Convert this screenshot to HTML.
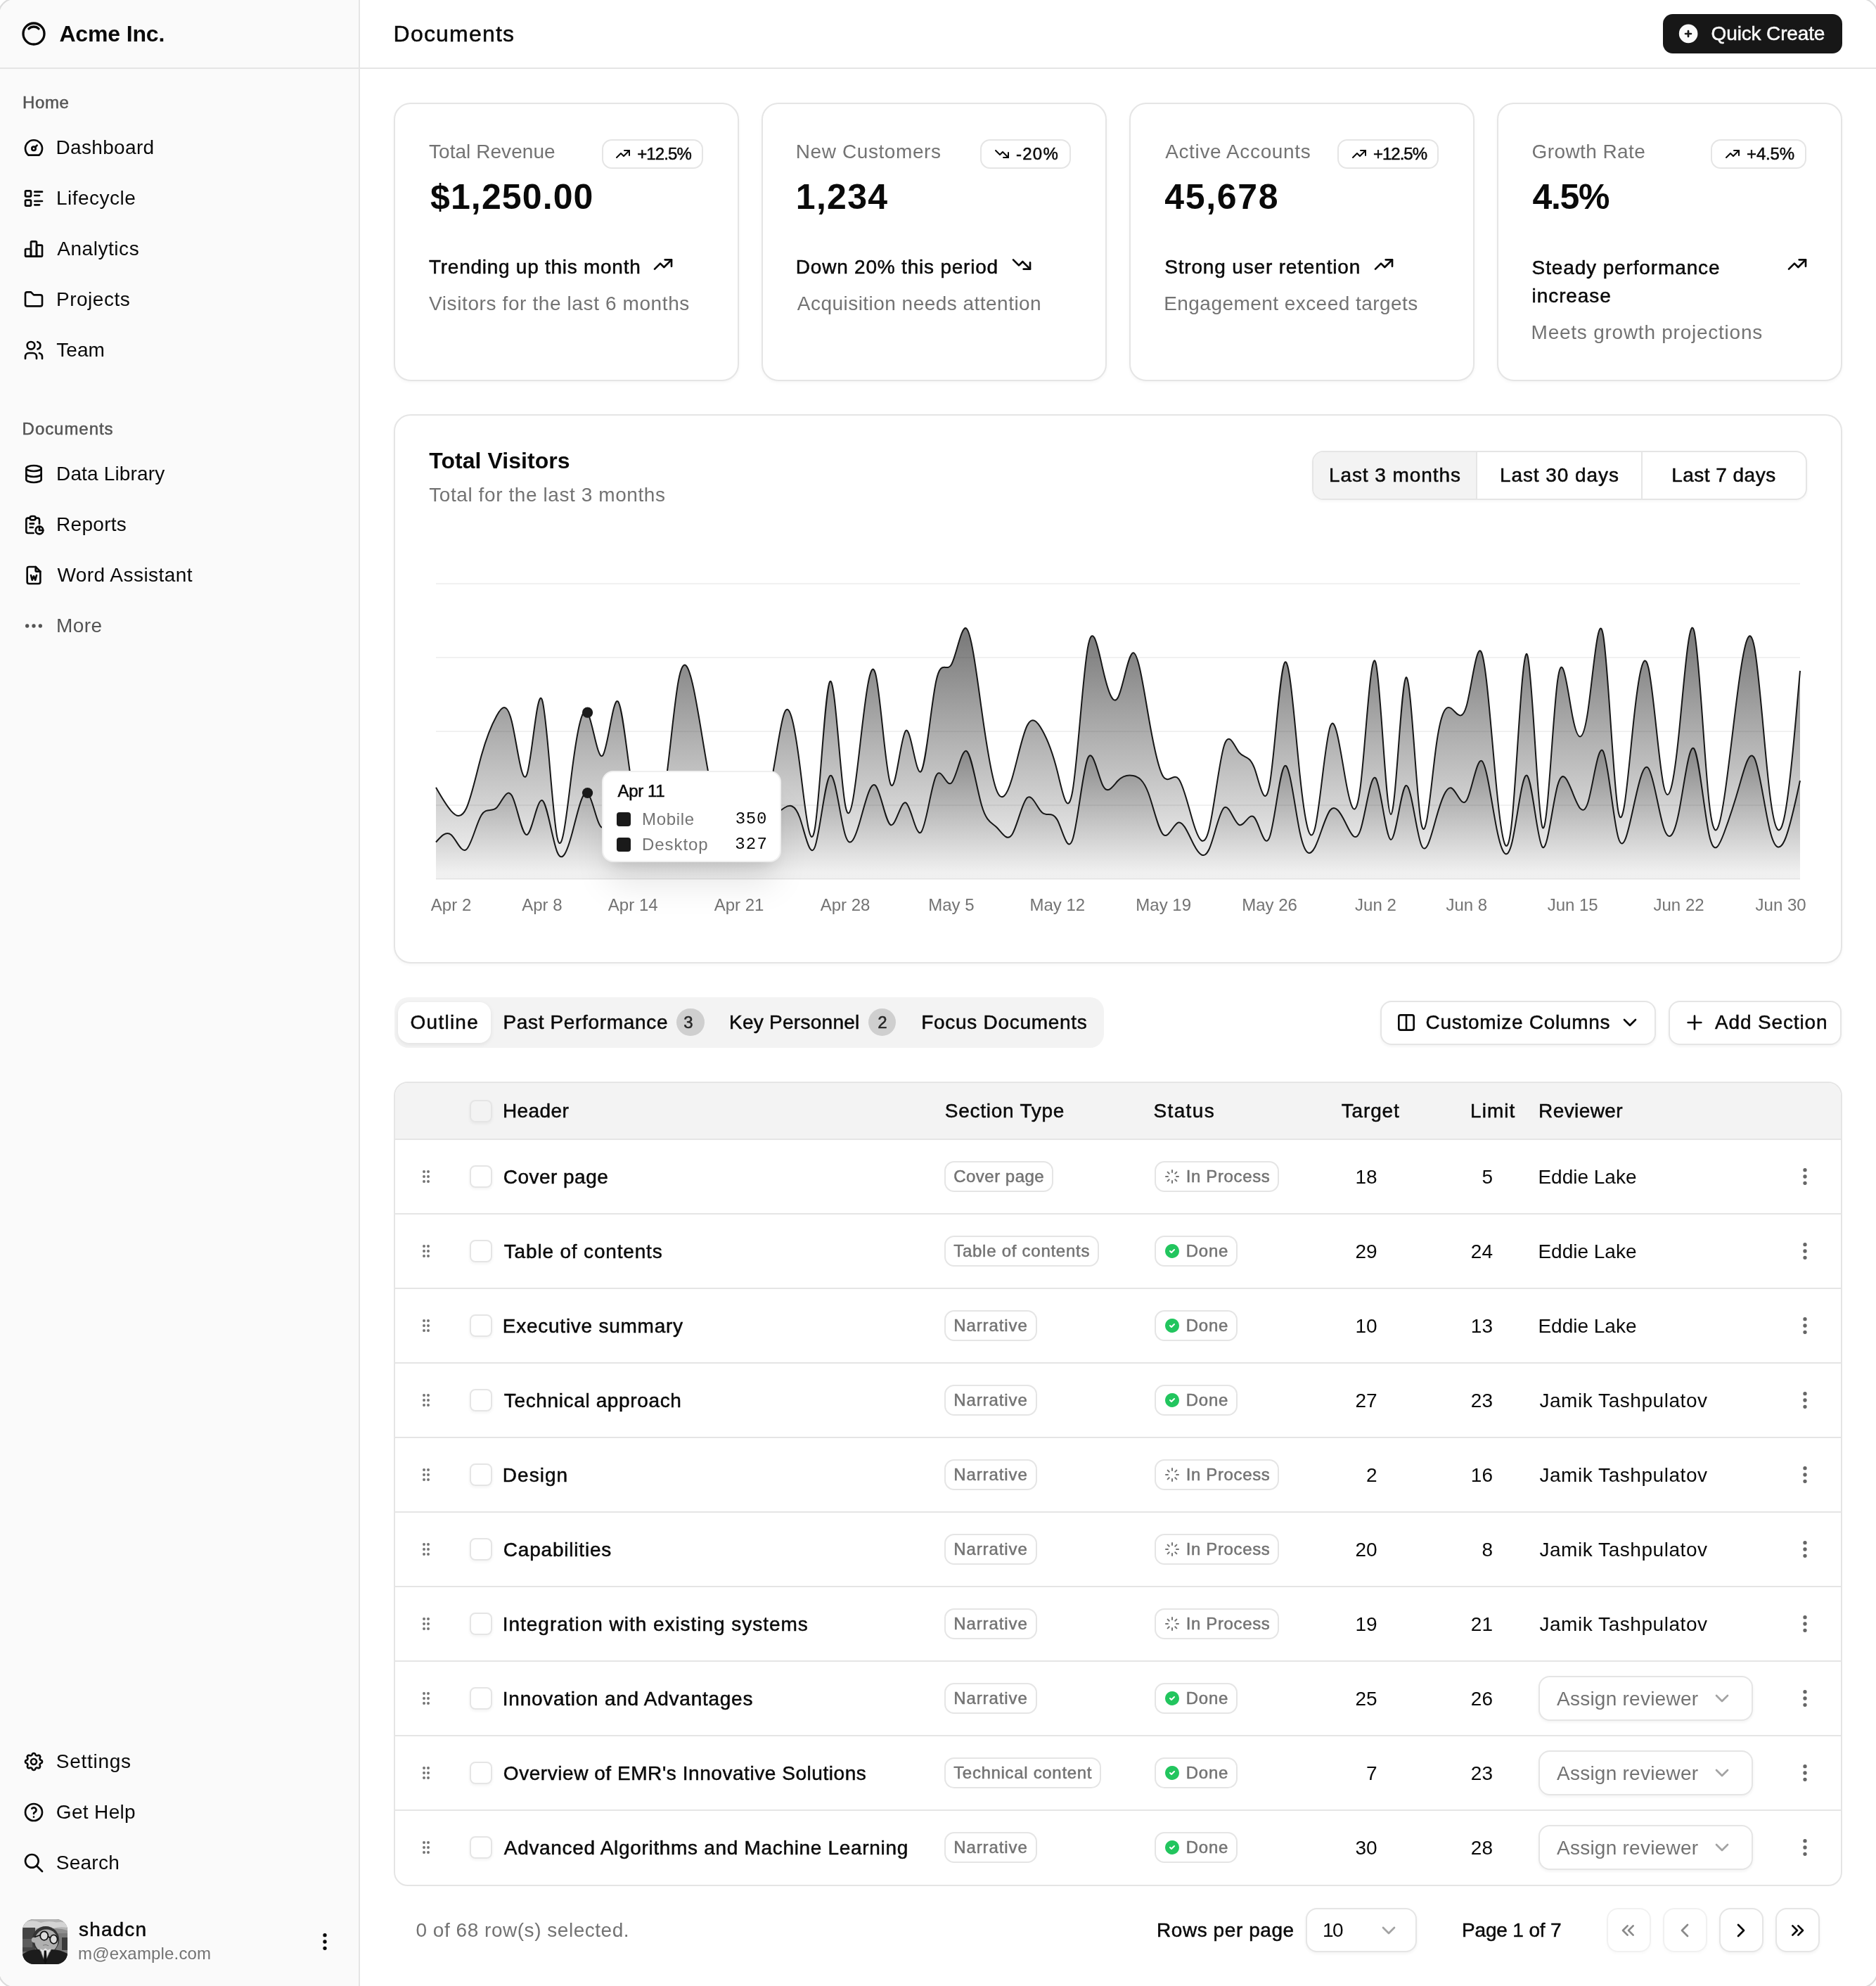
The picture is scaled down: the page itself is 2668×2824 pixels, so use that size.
<!DOCTYPE html><html><head><meta charset="utf-8"><title>Documents</title><style>
*{margin:0;padding:0;box-sizing:border-box}
html,body{width:1334px;height:1412px;overflow:hidden;background:#fff}
@media (min-width:2000px){html{zoom:2}}
body{will-change:transform;position:relative;font-family:"Liberation Sans",Arial,sans-serif;color:#0a0a0a;-webkit-font-smoothing:antialiased}
.t{position:absolute;white-space:nowrap}
.med{-webkit-text-stroke:0.25px currentColor}
.b{position:absolute}
.ic{position:absolute;overflow:visible}
.badge{position:absolute;height:21px;border:1px solid #e5e5e5;border-radius:7px;display:flex;align-items:center;gap:4px;padding:0 7.5px 0 8.3px;font-size:12px;line-height:16px;white-space:nowrap;background:#fff}
.bi{display:block;width:12px;height:12px;flex:none}
.tg{position:absolute;display:flex;border:1px solid #e5e5e5;border-radius:8px;overflow:hidden;box-shadow:0 1px 2px rgba(0,0,0,0.04)}
.ti{height:100%;display:flex;align-items:center;justify-content:center;font-size:14px;border-right:1px solid #e5e5e5;white-space:nowrap}
.ti.on{background:#f3f3f3}
.ax{font-size:12px;fill:#737373;font-family:"Liberation Sans",Arial,sans-serif}
.tip{position:absolute;background:#fff;border:1px solid rgba(229,229,229,0.6);border-radius:8px;box-shadow:0 20px 25px -5px rgba(0,0,0,0.1),0 8px 10px -6px rgba(0,0,0,0.1)}
.btn{position:absolute;border:1px solid #e5e5e5;border-radius:8px;background:#fff;box-shadow:0 1px 2px rgba(0,0,0,0.05)}
.cb{position:absolute;width:16px;height:16px;border:1px solid #e5e5e5;border-radius:4px;box-shadow:0 1px 2px rgba(0,0,0,0.05)}
.bdg{position:absolute;height:21.6px;border:1px solid #e5e5e5;border-radius:7px;display:flex;align-items:center;gap:4px;padding:0 5.5px;font-size:12px;color:#737373;white-space:nowrap;background:#fff}
.frame{position:absolute;left:-1.5px;top:-1.5px;width:1337px;height:1415px;border:1px solid #dcdcdc;border-radius:12px;box-shadow:0 0 0 20px #fff;pointer-events:none}
</style></head><body><div class="b" style="left:0px;top:0px;width:255px;height:1412px;background:#fafafa;"></div>
<div class="b" style="left:255px;top:0px;width:1px;height:1412px;background:#e5e5e5;"></div>
<div class="b" style="left:0px;top:48px;width:1334px;height:1px;background:#e5e5e5;"></div>
<svg class="ic" style="left:14px;top:14px;width:20px;height:20px" viewBox="0 0 24 24" fill="none" stroke="#0a0a0a" stroke-width="2" stroke-linecap="round" stroke-linejoin="round"><path d="M5.636 5.636a9 9 0 1 0 12.728 12.728a9 9 0 0 0 -12.728 -12.728z"/><path d="M16.243 7.757a6 6 0 0 0 -8.486 0"/></svg>
<div id="t1" class="t" style="left:42.2px;top:14.0px;font-size:16px;line-height:20px;color:#0a0a0a;font-weight:700;letter-spacing:-0.075px;">Acme Inc.</div>
<div id="t2" class="t med" style="left:16.0px;top:63.0px;font-size:12px;line-height:20px;color:#545454;letter-spacing:0.3px;">Home</div>
<svg class="ic" style="left:16px;top:97px;width:16px;height:16px" viewBox="0 0 24 24" fill="none" stroke="#0a0a0a" stroke-width="2" stroke-linecap="round" stroke-linejoin="round"><path d="M12 13m-2 0a2 2 0 1 0 4 0a2 2 0 1 0 -4 0"/><path d="M13.45 11.55l2.05 -2.05"/><path d="M6.4 20a9 9 0 1 1 11.2 0z"/></svg>
<div id="t3" class="t" style="left:39.7px;top:95.0px;font-size:14px;line-height:20px;color:#0a0a0a;letter-spacing:0.175px;">Dashboard</div>
<svg class="ic" style="left:16px;top:133px;width:16px;height:16px" viewBox="0 0 24 24" fill="none" stroke="#0a0a0a" stroke-width="2" stroke-linecap="round" stroke-linejoin="round"><path d="M13 5h8"/><path d="M13 9h5"/><path d="M13 15h8"/><path d="M13 19h5"/><path d="M3 4m0 1a1 1 0 0 1 1 -1h4a1 1 0 0 1 1 1v4a1 1 0 0 1 -1 1h-4a1 1 0 0 1 -1 -1z"/><path d="M3 14m0 1a1 1 0 0 1 1 -1h4a1 1 0 0 1 1 1v4a1 1 0 0 1 -1 1h-4a1 1 0 0 1 -1 -1z"/></svg>
<div id="t4" class="t" style="left:40.0px;top:131.0px;font-size:14px;line-height:20px;color:#0a0a0a;letter-spacing:0.237px;">Lifecycle</div>
<svg class="ic" style="left:16px;top:169px;width:16px;height:16px" viewBox="0 0 24 24" fill="none" stroke="#0a0a0a" stroke-width="2" stroke-linecap="round" stroke-linejoin="round"><path d="M3 13a1 1 0 0 1 1 -1h4a1 1 0 0 1 1 1v6a1 1 0 0 1 -1 1h-4a1 1 0 0 1 -1 -1z"/><path d="M15 9a1 1 0 0 1 1 -1h4a1 1 0 0 1 1 1v10a1 1 0 0 1 -1 1h-4a1 1 0 0 1 -1 -1z"/><path d="M9 5a1 1 0 0 1 1 -1h4a1 1 0 0 1 1 1v14a1 1 0 0 1 -1 1h-4a1 1 0 0 1 -1 -1z"/><path d="M4 20h14"/></svg>
<div id="t5" class="t" style="left:40.6px;top:167.0px;font-size:14px;line-height:20px;color:#0a0a0a;letter-spacing:0.275px;">Analytics</div>
<svg class="ic" style="left:16px;top:205px;width:16px;height:16px" viewBox="0 0 24 24" fill="none" stroke="#0a0a0a" stroke-width="2" stroke-linecap="round" stroke-linejoin="round"><path d="M5 4h4l3 3h7a2 2 0 0 1 2 2v8a2 2 0 0 1 -2 2h-14a2 2 0 0 1 -2 -2v-11a2 2 0 0 1 2 -2"/></svg>
<div id="t6" class="t" style="left:40.0px;top:203.0px;font-size:14px;line-height:20px;color:#0a0a0a;letter-spacing:0.257px;">Projects</div>
<svg class="ic" style="left:16px;top:241px;width:16px;height:16px" viewBox="0 0 24 24" fill="none" stroke="#0a0a0a" stroke-width="2" stroke-linecap="round" stroke-linejoin="round"><path d="M9 7m-4 0a4 4 0 1 0 8 0a4 4 0 1 0 -8 0"/><path d="M3 21v-2a4 4 0 0 1 4 -4h4a4 4 0 0 1 4 4v2"/><path d="M16 3.13a4 4 0 0 1 0 7.75"/><path d="M21 21v-2a4 4 0 0 0 -3 -3.85"/></svg>
<div id="t7" class="t" style="left:40.1px;top:239.0px;font-size:14px;line-height:20px;color:#0a0a0a;letter-spacing:0.033px;">Team</div>
<div id="t8" class="t med" style="left:15.8px;top:295.0px;font-size:12px;line-height:20px;color:#545454;letter-spacing:0.475px;">Documents</div>
<svg class="ic" style="left:16px;top:329px;width:16px;height:16px" viewBox="0 0 24 24" fill="none" stroke="#0a0a0a" stroke-width="2" stroke-linecap="round" stroke-linejoin="round"><path d="M12 6m-8 0a8 3 0 1 0 16 0a8 3 0 1 0 -16 0"/><path d="M4 6v6a8 3 0 0 0 16 0v-6"/><path d="M4 12v6a8 3 0 0 0 16 0v-6"/></svg>
<div id="t9" class="t" style="left:40.0px;top:327.0px;font-size:14px;line-height:20px;color:#0a0a0a;letter-spacing:0.082px;">Data Library</div>
<svg class="ic" style="left:16px;top:365px;width:16px;height:16px" viewBox="0 0 24 24" fill="none" stroke="#0a0a0a" stroke-width="2" stroke-linecap="round" stroke-linejoin="round"><path d="M8 5h-2a2 2 0 0 0 -2 2v12a2 2 0 0 0 2 2h5.697"/><path d="M18 14v4h4"/><path d="M18 11v-4a2 2 0 0 0 -2 -2h-2"/><path d="M8 3m0 2a2 2 0 0 1 2 -2h2a2 2 0 0 1 2 2v0a2 2 0 0 1 -2 2h-2a2 2 0 0 1 -2 -2z"/><path d="M18 18m-4 0a4 4 0 1 0 8 0a4 4 0 1 0 -8 0"/><path d="M8 11h4"/><path d="M8 15h3"/></svg>
<div id="t10" class="t" style="left:40.0px;top:363.0px;font-size:14px;line-height:20px;color:#0a0a0a;letter-spacing:0.15px;">Reports</div>
<svg class="ic" style="left:16px;top:401px;width:16px;height:16px" viewBox="0 0 24 24" fill="none" stroke="#0a0a0a" stroke-width="2" stroke-linecap="round" stroke-linejoin="round"><path d="M14 3v4a1 1 0 0 0 1 1h4"/><path d="M17 21h-10a2 2 0 0 1 -2 -2v-14a2 2 0 0 1 2 -2h7l5 5v11a2 2 0 0 1 -2 2z"/><path d="M9 12l1.333 5l1.667 -4l1.667 4l1.333 -5"/></svg>
<div id="t11" class="t" style="left:40.7px;top:399.0px;font-size:14px;line-height:20px;color:#0a0a0a;letter-spacing:0.231px;">Word Assistant</div>
<svg class="ic" style="left:16px;top:437px;width:16px;height:16px" viewBox="0 0 24 24" fill="none" stroke="#545454" stroke-width="2" stroke-linecap="round" stroke-linejoin="round"><path d="M5 12m-1 0a1 1 0 1 0 2 0a1 1 0 1 0 -2 0"/><path d="M12 12m-1 0a1 1 0 1 0 2 0a1 1 0 1 0 -2 0"/><path d="M19 12m-1 0a1 1 0 1 0 2 0a1 1 0 1 0 -2 0"/></svg>
<div id="t12" class="t" style="left:40.0px;top:435.0px;font-size:14px;line-height:20px;color:#545454;letter-spacing:0.233px;">More</div>
<svg class="ic" style="left:16px;top:1244.5px;width:16px;height:16px" viewBox="0 0 24 24" fill="none" stroke="#0a0a0a" stroke-width="2" stroke-linecap="round" stroke-linejoin="round"><path d="M10.325 4.317c.426 -1.756 2.924 -1.756 3.35 0a1.724 1.724 0 0 0 2.573 1.066c1.543 -.94 3.31 .826 2.37 2.37a1.724 1.724 0 0 0 1.065 2.572c1.756 .426 1.756 2.924 0 3.35a1.724 1.724 0 0 0 -1.066 2.573c.94 1.543 -.826 3.31 -2.37 2.37a1.724 1.724 0 0 0 -2.572 1.065c-.426 1.756 -2.924 1.756 -3.35 0a1.724 1.724 0 0 0 -2.573 -1.066c-1.543 .94 -3.31 -.826 -2.37 -2.37a1.724 1.724 0 0 0 -1.065 -2.572c-1.756 -.426 -1.756 -2.924 0 -3.35a1.724 1.724 0 0 0 1.066 -2.573c-.94 -1.543 .826 -3.31 2.37 -2.37c1 .608 2.296 .07 2.572 -1.065z"/><path d="M9 12a3 3 0 1 0 6 0a3 3 0 0 0 -6 0"/></svg>
<div id="t13" class="t" style="left:39.9px;top:1242.5px;font-size:14px;line-height:20px;color:#0a0a0a;letter-spacing:0.357px;">Settings</div>
<svg class="ic" style="left:16px;top:1280.5px;width:16px;height:16px" viewBox="0 0 24 24" fill="none" stroke="#0a0a0a" stroke-width="2" stroke-linecap="round" stroke-linejoin="round"><path d="M12 12m-9 0a9 9 0 1 0 18 0a9 9 0 1 0 -18 0"/><path d="M12 17l0 .01"/><path d="M12 13.5a1.5 1.5 0 0 1 1 -1.5a2.6 2.6 0 1 0 -3 -4"/></svg>
<div id="t14" class="t" style="left:39.9px;top:1278.5px;font-size:14px;line-height:20px;color:#0a0a0a;letter-spacing:0.171px;">Get Help</div>
<svg class="ic" style="left:16px;top:1316.5px;width:16px;height:16px" viewBox="0 0 24 24" fill="none" stroke="#0a0a0a" stroke-width="2" stroke-linecap="round" stroke-linejoin="round"><path d="M10 10m-7 0a7 7 0 1 0 14 0a7 7 0 1 0 -14 0"/><path d="M21 21l-6 -6"/></svg>
<div id="t15" class="t" style="left:39.9px;top:1314.5px;font-size:14px;line-height:20px;color:#0a0a0a;letter-spacing:0.12px;">Search</div>
<svg class="ic" style="left:16px;top:1364.4px;width:32px;height:32px" viewBox="0 0 32 32">
<defs><clipPath id="av"><rect width="32" height="32" rx="8"/></clipPath></defs>
<g clip-path="url(#av)">
<rect width="32" height="32" fill="#6a6a6a"/>
<rect width="32" height="10" fill="#b4b4b4"/>
<path d="M2 2 Q8 0 13 2.5 Q18 1 24 2.2 Q29 1.5 32 3 V6 Q26 5 22 6.5 Q16 5 10 6.5 Q5 5.5 0 6.5Z" fill="#d4d4d4"/>
<path d="M20 7 Q26 6 32 8 V11 Q27 10 22 11Z" fill="#8e8e8e"/>
<rect x="0" y="6" width="9" height="17" fill="#444"/>
<rect x="0" y="14" width="7" height="6" fill="#5c5c5c"/>
<rect x="24" y="10" width="8" height="16" fill="#7a7a7a"/>
<rect x="28" y="13" width="4" height="9" fill="#3a3a3a"/>
<circle cx="16.5" cy="14.6" r="9.6" fill="#333"/>
<circle cx="16.9" cy="15.6" r="8.3" fill="#b0b0b0"/>
<circle cx="8.3" cy="14.8" r="1.9" fill="#b0b0b0"/>
<path d="M12.6 11.2 L8.6 12.8" stroke="#111" stroke-width="0.8"/>
<ellipse cx="15.4" cy="11.8" rx="2.8" ry="3.1" fill="#dcdcdc" stroke="#111" stroke-width="0.9"/>
<ellipse cx="22.2" cy="14.3" rx="2.6" ry="3.1" fill="#dcdcdc" stroke="#111" stroke-width="0.9"/>
<path d="M18.1 12.2 L19.7 13.2" stroke="#111" stroke-width="0.9"/>
<path d="M14.5 18.6 Q16.5 17.6 18.6 18.9" stroke="#7a7a7a" stroke-width="0.5" fill="none"/>
<path d="M0 32 V25 Q5 21 12 21.5 L16 31 L20.5 21.5 Q27 21.5 32 24.5 V32Z" fill="#1c1c1c"/>
<path d="M12.6 21 L16 30.5 L20 21 L18 22 L16.3 20.6 L14.6 22Z" fill="#e4e4e4"/>
<path d="M15.4 22.3 L16.9 22.3 L17.4 29.5 L16.2 32 L15 29.5Z" fill="#111"/>
</g></svg>
<div id="t16" class="t med" style="left:56.0px;top:1363.1px;font-size:14px;line-height:18px;color:#0a0a0a;letter-spacing:0.58px;">shadcn</div>
<div id="t17" class="t" style="left:55.5px;top:1380.8px;font-size:12px;line-height:16px;color:#737373;letter-spacing:0.083px;">m@example.com</div>
<svg class="ic" style="left:223px;top:1372.4px;width:16px;height:16px" viewBox="0 0 24 24" fill="none" stroke="#0a0a0a" stroke-width="2" stroke-linecap="round" stroke-linejoin="round"><path d="M12 12m-1 0a1 1 0 1 0 2 0a1 1 0 1 0 -2 0"/><path d="M12 19m-1 0a1 1 0 1 0 2 0a1 1 0 1 0 -2 0"/><path d="M12 5m-1 0a1 1 0 1 0 2 0a1 1 0 1 0 -2 0"/></svg>
<div id="t18" class="t med" style="left:279.8px;top:14.0px;font-size:16px;line-height:20px;color:#0a0a0a;letter-spacing:0.6px;">Documents</div>
<div class="b" style="left:1182.5px;top:10px;width:127.5px;height:28px;background:#171717;border-radius:7px;"></div>
<svg class="ic" style="left:1192.5px;top:16px;width:16px;height:16px" viewBox="0 0 24 24" fill="#fafafa" stroke="none"><path d="M4.929 4.929a10 10 0 1 1 14.141 14.141a10 10 0 0 1 -14.14 -14.14zm8.071 4.071a1 1 0 1 0 -2 0v2h-2a1 1 0 1 0 0 2h2v2a1 1 0 1 0 2 0v-2h2a1 1 0 1 0 0 -2h-2v-2z"/></svg>
<div id="t19" class="t med" style="left:1216.8px;top:14.0px;font-size:14px;line-height:20px;color:#fafafa;letter-spacing:-0.073px;">Quick Create</div>
<div class="b" style="left:280.0px;top:73.0px;width:245.5px;height:198px;border:1px solid #e5e5e5;border-radius:12px;background:#fff;box-shadow:0 1px 2px rgba(0,0,0,0.04);box-sizing:border-box;"></div>
<div id="t20" class="t" style="left:305.0px;top:98.0px;font-size:14px;line-height:20px;color:#737373;letter-spacing:0.025px;">Total Revenue</div>
<div class="badge" style="right:834.0px;top:99px;"><svg class="bi" style="left:0px;top:0px;width:12px;height:12px" viewBox="0 0 24 24" fill="none" stroke="#0a0a0a" stroke-width="2" stroke-linecap="round" stroke-linejoin="round"><path d="M3 17l6 -6l4 4l8 -8"/><path d="M14 7l7 0l0 7"/></svg><span id="t21" class="med" style="letter-spacing:-0.44px;">+12.5%</span></div>
<div id="t22" class="t" style="left:306.0px;top:124.0px;font-size:25px;line-height:32px;color:#0a0a0a;font-weight:700;letter-spacing:0.562px;">$1,250.00</div>
<div id="t23" class="t med" style="left:305.0px;top:180.0px;font-size:14px;line-height:20px;color:#0a0a0a;letter-spacing:0.367px;">Trending up this month</div>
<div id="t24" class="t" style="left:305.0px;top:206.0px;font-size:14px;line-height:20px;color:#737373;letter-spacing:0.303px;">Visitors for the last 6 months</div>
<svg class="ic" style="left:463.4px;top:180px;width:16px;height:16px" viewBox="0 0 24 24" fill="none" stroke="#0a0a0a" stroke-width="2" stroke-linecap="round" stroke-linejoin="round"><path d="M3 17l6 -6l4 4l8 -8"/><path d="M14 7l7 0l0 7"/></svg>
<div class="b" style="left:541.5px;top:73.0px;width:245.5px;height:198px;border:1px solid #e5e5e5;border-radius:12px;background:#fff;box-shadow:0 1px 2px rgba(0,0,0,0.04);box-sizing:border-box;"></div>
<div id="t25" class="t" style="left:565.9px;top:98.0px;font-size:14px;line-height:20px;color:#737373;letter-spacing:0.292px;">New Customers</div>
<div class="badge" style="right:572.5px;top:99px;"><svg class="bi" style="left:0px;top:0px;width:12px;height:12px" viewBox="0 0 24 24" fill="none" stroke="#0a0a0a" stroke-width="2" stroke-linecap="round" stroke-linejoin="round"><path d="M3 7l6 6l4 -4l8 8"/><path d="M21 10l0 7l-7 0"/></svg><span id="t26" class="med" style="letter-spacing:0.633px;">-20%</span></div>
<div id="t27" class="t" style="left:565.9px;top:124.0px;font-size:25px;line-height:32px;color:#0a0a0a;font-weight:700;letter-spacing:0.65px;">1,234</div>
<div id="t28" class="t med" style="left:565.9px;top:180.0px;font-size:14px;line-height:20px;color:#0a0a0a;letter-spacing:0.395px;">Down 20% this period</div>
<div id="t29" class="t" style="left:566.9px;top:206.0px;font-size:14px;line-height:20px;color:#737373;letter-spacing:0.235px;">Acquisition needs attention</div>
<svg class="ic" style="left:718.5px;top:180px;width:16px;height:16px" viewBox="0 0 24 24" fill="none" stroke="#0a0a0a" stroke-width="2" stroke-linecap="round" stroke-linejoin="round"><path d="M3 7l6 6l4 -4l8 8"/><path d="M21 10l0 7l-7 0"/></svg>
<div class="b" style="left:803.0px;top:73.0px;width:245.5px;height:198px;border:1px solid #e5e5e5;border-radius:12px;background:#fff;box-shadow:0 1px 2px rgba(0,0,0,0.04);box-sizing:border-box;"></div>
<div id="t30" class="t" style="left:828.6px;top:98.0px;font-size:14px;line-height:20px;color:#737373;letter-spacing:0.314px;">Active Accounts</div>
<div class="badge" style="right:311.0px;top:99px;"><svg class="bi" style="left:0px;top:0px;width:12px;height:12px" viewBox="0 0 24 24" fill="none" stroke="#0a0a0a" stroke-width="2" stroke-linecap="round" stroke-linejoin="round"><path d="M3 17l6 -6l4 4l8 -8"/><path d="M14 7l7 0l0 7"/></svg><span id="t31" class="med" style="letter-spacing:-0.5px;">+12.5%</span></div>
<div id="t32" class="t" style="left:828.1px;top:124.0px;font-size:25px;line-height:32px;color:#0a0a0a;font-weight:700;letter-spacing:0.84px;">45,678</div>
<div id="t33" class="t med" style="left:828.1px;top:180.0px;font-size:14px;line-height:20px;color:#0a0a0a;letter-spacing:0.415px;">Strong user retention</div>
<div id="t34" class="t" style="left:827.6px;top:206.0px;font-size:14px;line-height:20px;color:#737373;letter-spacing:0.225px;">Engagement exceed targets</div>
<svg class="ic" style="left:975.9px;top:180px;width:16px;height:16px" viewBox="0 0 24 24" fill="none" stroke="#0a0a0a" stroke-width="2" stroke-linecap="round" stroke-linejoin="round"><path d="M3 17l6 -6l4 4l8 -8"/><path d="M14 7l7 0l0 7"/></svg>
<div class="b" style="left:1064.5px;top:73.0px;width:245.5px;height:198px;border:1px solid #e5e5e5;border-radius:12px;background:#fff;box-shadow:0 1px 2px rgba(0,0,0,0.04);box-sizing:border-box;"></div>
<div id="t35" class="t" style="left:1089.3px;top:98.0px;font-size:14px;line-height:20px;color:#737373;letter-spacing:0.2px;">Growth Rate</div>
<div class="badge" style="right:49.5px;top:99px;"><svg class="bi" style="left:0px;top:0px;width:12px;height:12px" viewBox="0 0 24 24" fill="none" stroke="#0a0a0a" stroke-width="2" stroke-linecap="round" stroke-linejoin="round"><path d="M3 17l6 -6l4 4l8 -8"/><path d="M14 7l7 0l0 7"/></svg><span id="t36" class="med" style="letter-spacing:-0.075px;">+4.5%</span></div>
<div id="t37" class="t" style="left:1089.8px;top:124.0px;font-size:25px;line-height:32px;color:#0a0a0a;font-weight:700;letter-spacing:-0.7px;">4.5%</div>
<div id="t38" class="t med" style="left:1089.3px;top:180.4px;font-size:14px;line-height:20px;color:#0a0a0a;letter-spacing:0.435px;">Steady performance</div>
<div id="t39" class="t med" style="left:1089.3px;top:200.4px;font-size:14px;line-height:20px;color:#0a0a0a;letter-spacing:0.457px;">increase</div>
<div id="t40" class="t" style="left:1088.8px;top:226.4px;font-size:14px;line-height:20px;color:#737373;letter-spacing:0.378px;">Meets growth projections</div>
<svg class="ic" style="left:1270px;top:180px;width:16px;height:16px" viewBox="0 0 24 24" fill="none" stroke="#0a0a0a" stroke-width="2" stroke-linecap="round" stroke-linejoin="round"><path d="M3 17l6 -6l4 4l8 -8"/><path d="M14 7l7 0l0 7"/></svg>
<div class="b" style="left:280px;top:294.5px;width:1030px;height:390.5px;border:1px solid #e5e5e5;border-radius:12px;background:#fff;box-shadow:0 1px 2px rgba(0,0,0,0.04);box-sizing:border-box;"></div>
<div id="t41" class="t" style="left:305.1px;top:319.7px;font-size:16px;line-height:16px;color:#0a0a0a;font-weight:700;letter-spacing:0.023px;">Total Visitors</div>
<div id="t42" class="t" style="left:305.1px;top:341.8px;font-size:14px;line-height:20px;color:#737373;letter-spacing:0.292px;">Total for the last 3 months</div>
<div class="tg" style="left:933.2px;top:320.3px;width:352px;height:35.2px;"><div class="ti on" style="width:116.5px"><span id="t43" class="med" style="letter-spacing:0.467px;">Last 3 months</span></div><div class="ti" style="width:117.5px"><span id="t44" class="med" style="letter-spacing:0.464px;">Last 30 days</span></div><div class="ti" style="width:115px;border-right:0"><span id="t45" class="med" style="letter-spacing:0.24px;">Last 7 days</span></div></div>
<svg class="ic" style="left:300px;top:400px;width:990px;height:270px" viewBox="300 400 990 270"><defs><linearGradient id="gd" gradientUnits="userSpaceOnUse" x1="0" y1="446.3043300500868" x2="0" y2="609.1599468446459"><stop offset="5%" stop-color="#171717" stop-opacity="0.56"/><stop offset="95%" stop-color="#171717" stop-opacity="0.10"/></linearGradient><linearGradient id="gm" gradientUnits="userSpaceOnUse" x1="0" y1="531.8622913973666" x2="0" y2="625"><stop offset="5%" stop-color="#171717" stop-opacity="0.5"/><stop offset="95%" stop-color="#171717" stop-opacity="0.065"/></linearGradient></defs><line x1="310" x2="1280" y1="625.0" y2="625.0" stroke="#e5e5e5" stroke-opacity="0.55" stroke-width="1"/><line x1="310" x2="1280" y1="572.5" y2="572.5" stroke="#e5e5e5" stroke-opacity="0.55" stroke-width="1"/><line x1="310" x2="1280" y1="520.0" y2="520.0" stroke="#e5e5e5" stroke-opacity="0.55" stroke-width="1"/><line x1="310" x2="1280" y1="467.5" y2="467.5" stroke="#e5e5e5" stroke-opacity="0.55" stroke-width="1"/><line x1="310" x2="1280" y1="415.0" y2="415.0" stroke="#e5e5e5" stroke-opacity="0.55" stroke-width="1"/><path d="M310,598.75C313.59,594.6,317.19,590.45,320.78,593.5C324.37,596.55,327.96,606.8,331.56,604C335.15,601.2,338.74,585.36,342.33,579.5C345.93,573.64,349.52,577.76,353.11,574.25C356.7,570.74,360.3,559.59,363.89,565.5C367.48,571.41,371.07,594.37,374.67,593.5C378.26,592.63,381.85,567.91,385.44,569C389.04,570.09,392.63,596.99,396.22,605.75C399.81,614.51,403.41,605.15,407,591.75C410.59,578.35,414.19,560.93,417.78,563.75C421.37,566.57,424.96,589.64,428.56,588.25C432.15,586.86,435.74,561.02,439.33,558.5C442.93,555.98,446.52,576.77,450.11,586.5C453.7,596.23,457.3,594.9,460.89,595.25C464.48,595.6,468.07,597.62,471.67,591.75C475.26,585.88,478.85,572.12,482.44,562C486.04,551.88,489.63,545.42,493.22,553.25C496.81,561.08,500.41,583.22,504,593.5C507.59,603.78,511.19,602.2,514.78,598.75C518.37,595.3,521.96,589.97,525.56,590C529.15,590.03,532.74,595.4,536.33,595.25C539.93,595.1,543.52,589.42,547.11,584.75C550.7,580.08,554.3,576.42,557.89,574.25C561.48,572.08,565.07,571.41,568.67,581.25C572.26,591.09,575.85,611.44,579.44,602.25C583.04,593.06,586.63,554.32,590.22,551.5C593.81,548.68,597.41,581.78,601,593.5C604.59,605.22,608.19,595.58,611.78,583C615.37,570.42,618.96,554.91,622.56,558.5C626.15,562.09,629.74,584.77,633.33,586.5C636.93,588.23,640.52,569,644.11,570.75C647.7,572.5,651.3,595.22,654.89,591.75C658.48,588.28,662.07,558.63,665.67,551.5C669.26,544.37,672.85,559.75,676.44,556.75C680.04,553.75,683.63,532.38,687.22,534C690.81,535.62,694.41,560.22,698,572.5C701.59,584.78,705.19,584.75,708.78,588.25C712.37,591.75,715.96,598.77,719.56,593.5C723.15,588.23,726.74,570.65,730.33,567.25C733.93,563.85,737.52,574.62,741.11,577.75C744.7,580.88,748.3,576.37,751.89,583C755.48,589.63,759.07,607.4,762.67,597C766.26,586.6,769.85,548.04,773.44,539.25C777.04,530.46,780.63,551.44,784.22,558.5C787.81,565.56,791.41,558.7,795,555C798.59,551.3,802.19,550.78,805.78,551.5C809.37,552.22,812.96,554.19,816.56,563.75C820.15,573.31,823.74,590.46,827.33,593.5C830.93,596.54,834.52,585.48,838.11,584.75C841.7,584.02,845.3,593.61,848.89,600.5C852.48,607.39,856.07,611.58,859.67,604C863.26,596.42,866.85,577.08,870.44,574.25C874.04,571.42,877.63,585.1,881.22,586.5C884.81,587.9,888.41,577.02,892,581.25C895.59,585.48,899.19,604.82,902.78,595.25C906.37,585.68,909.96,547.2,913.56,544.5C917.15,541.8,920.74,574.88,924.33,591.75C927.93,608.62,931.52,609.3,935.11,602.25C938.7,595.2,942.3,580.44,945.89,576C949.48,571.56,953.07,577.45,956.67,584.75C960.26,592.05,963.85,600.77,967.44,590C971.04,579.23,974.63,548.97,978.22,553.25C981.81,557.53,985.41,596.36,989,597C992.59,597.64,996.19,560.11,999.78,558.5C1003.37,556.89,1006.96,591.22,1010.56,600.5C1014.15,609.78,1017.74,594.03,1021.33,581.25C1024.93,568.47,1028.52,558.67,1032.11,560.25C1035.7,561.83,1039.3,574.78,1042.89,569C1046.48,563.22,1050.07,538.7,1053.67,541C1057.26,543.3,1060.85,572.41,1064.44,590C1068.04,607.59,1071.63,613.67,1075.22,598.75C1078.81,583.83,1082.41,547.92,1086,551.5C1089.59,555.08,1093.19,598.17,1096.78,602.25C1100.37,606.33,1103.96,571.41,1107.56,558.5C1111.15,545.59,1114.74,554.68,1118.33,563.75C1121.93,572.82,1125.52,581.88,1129.11,570.75C1132.7,559.62,1136.3,528.29,1139.89,534C1143.48,539.71,1147.07,582.45,1150.67,595.25C1154.26,608.05,1157.85,590.92,1161.44,574.25C1165.04,557.58,1168.63,541.36,1172.22,546.25C1175.81,551.14,1179.41,577.13,1183,588.25C1186.59,599.37,1190.19,595.62,1193.78,577.75C1197.37,559.88,1200.96,527.9,1204.56,532.25C1208.15,536.6,1211.74,577.3,1215.33,593.5C1218.93,609.7,1222.52,601.41,1226.11,591.75C1229.7,582.09,1233.3,571.05,1236.89,558.5C1240.48,545.95,1244.07,531.9,1247.67,539.25C1251.26,546.6,1254.85,575.35,1258.44,590C1262.04,604.65,1265.63,605.18,1269.22,597C1272.81,588.82,1276.41,571.91,1280,555L1280,625L310,625Z" fill="url(#gm)"/><path d="M310,559.9C313.59,566.19,317.19,572.47,320.78,576.52C324.37,580.58,327.96,582.4,331.56,574.77C335.15,567.15,338.74,550.08,342.33,537.15C345.93,524.22,349.52,515.45,353.11,508.98C356.7,502.5,360.3,498.33,363.89,512.83C367.48,527.32,371.07,560.47,374.67,550.62C378.26,540.78,381.85,487.95,385.44,497.43C389.04,506.9,392.63,578.67,396.22,595.42C399.81,612.18,403.41,573.93,407,546.08C410.59,518.22,414.19,500.76,417.78,506.52C421.37,512.29,424.96,541.29,428.56,537.15C432.15,533.01,435.74,495.73,439.33,498.65C442.93,501.57,446.52,544.69,450.11,562.52C453.7,580.36,457.3,572.91,460.89,574.25C464.48,575.59,468.07,585.71,471.67,567.6C475.26,549.49,478.85,503.14,482.44,483.95C486.04,464.76,489.63,472.74,493.22,489.55C496.81,506.36,500.41,532.02,504,550.98C507.59,569.93,511.19,582.18,514.78,583.17C518.37,584.17,521.96,573.9,525.56,566.02C529.15,558.15,532.74,552.66,536.33,556.05C539.93,559.44,543.52,571.72,547.11,560.6C550.7,549.48,554.3,514.98,557.89,506.52C561.48,498.07,565.07,515.67,568.67,543.62C572.26,571.58,575.85,609.91,579.44,589.12C583.04,568.34,586.63,488.46,590.22,484.48C593.81,480.49,597.41,552.41,601,572.15C604.59,591.89,608.19,559.45,611.78,527.88C615.37,496.3,618.96,465.6,622.56,479.05C626.15,492.5,629.74,550.08,633.33,557.62C636.93,565.17,640.52,522.66,644.11,519.48C647.7,516.29,651.3,552.44,654.89,548.52C658.48,544.61,662.07,500.65,665.67,484.12C669.26,467.6,672.85,478.52,676.44,472.58C680.04,466.63,683.63,443.83,687.22,446.85C690.81,449.87,694.41,478.73,698,504.6C701.59,530.47,705.19,553.37,708.78,562.17C712.37,570.98,715.96,565.71,719.56,553.77C723.15,541.84,726.74,523.25,730.33,515.98C733.93,508.7,737.52,512.76,741.11,519.12C744.7,525.49,748.3,534.17,751.89,548.52C755.48,562.88,759.07,582.91,762.67,562.52C766.26,542.14,769.85,481.34,773.44,460.85C777.04,440.36,780.63,460.18,784.22,475.73C787.81,491.27,791.41,502.53,795,495.85C798.59,489.17,802.19,464.53,805.78,464.18C809.37,463.82,812.96,487.73,816.56,508.62C820.15,529.52,823.74,547.4,827.33,552.38C830.93,557.35,834.52,549.44,838.11,553.77C841.7,558.11,845.3,574.71,848.89,586.15C852.48,597.59,856.07,603.86,859.67,589.83C863.26,575.79,866.85,541.44,870.44,530.15C874.04,518.86,877.63,530.64,881.22,535.05C884.81,539.46,888.41,536.49,892,546.08C895.59,555.66,899.19,577.79,902.78,557.98C906.37,538.16,909.96,476.4,913.56,471C917.15,465.6,920.74,516.55,924.33,550.98C927.93,585.4,931.52,603.28,935.11,588.6C938.7,573.92,942.3,526.66,945.89,516.5C949.48,506.34,953.07,533.29,956.67,553.6C960.26,573.91,963.85,587.6,967.44,558.85C971.04,530.1,974.63,458.91,978.22,471C981.81,483.09,985.41,578.47,989,578.98C992.59,579.48,996.19,485.11,999.78,481.68C1003.37,478.24,1006.96,565.75,1010.56,585.1C1014.15,604.45,1017.74,555.64,1021.33,529.8C1024.93,503.96,1028.52,501.09,1032.11,503.73C1035.7,506.36,1039.3,514.51,1042.89,501.62C1046.48,488.74,1050.07,454.82,1053.67,464.35C1057.26,473.88,1060.85,526.84,1064.44,562.88C1068.04,598.91,1071.63,618,1075.22,582.65C1078.81,547.3,1082.41,457.52,1086,465.4C1089.59,473.28,1093.19,578.82,1096.78,588.08C1100.37,597.33,1103.96,510.29,1107.56,483.95C1111.15,457.61,1114.74,491.98,1118.33,510.02C1121.93,528.07,1125.52,529.8,1129.11,505.82C1132.7,481.85,1136.3,432.15,1139.89,450.88C1143.48,469.6,1147.07,556.73,1150.67,576.52C1154.26,596.32,1157.85,548.79,1161.44,514.58C1165.04,480.36,1168.63,459.46,1172.22,474.85C1175.81,490.24,1179.41,541.93,1183,558.67C1186.59,575.42,1190.19,557.23,1193.78,522.27C1197.37,487.32,1200.96,435.6,1204.56,448.25C1208.15,460.9,1211.74,537.93,1215.33,570.4C1218.93,602.87,1222.52,590.79,1226.11,567.08C1229.7,543.36,1233.3,508.02,1236.89,482.55C1240.48,457.08,1244.07,441.48,1247.67,460.85C1251.26,480.22,1254.85,534.57,1258.44,563.92C1262.04,593.28,1265.63,597.64,1269.22,578.98C1272.81,560.31,1276.41,518.63,1280,476.95L1280,555C1276.41,571.91,1272.81,588.82,1269.22,597C1265.63,605.18,1262.04,604.65,1258.44,590C1254.85,575.35,1251.26,546.6,1247.67,539.25C1244.07,531.9,1240.48,545.95,1236.89,558.5C1233.3,571.05,1229.7,582.09,1226.11,591.75C1222.52,601.41,1218.93,609.7,1215.33,593.5C1211.74,577.3,1208.15,536.6,1204.56,532.25C1200.96,527.9,1197.37,559.88,1193.78,577.75C1190.19,595.62,1186.59,599.37,1183,588.25C1179.41,577.13,1175.81,551.14,1172.22,546.25C1168.63,541.36,1165.04,557.58,1161.44,574.25C1157.85,590.92,1154.26,608.05,1150.67,595.25C1147.07,582.45,1143.48,539.71,1139.89,534C1136.3,528.29,1132.7,559.62,1129.11,570.75C1125.52,581.88,1121.93,572.82,1118.33,563.75C1114.74,554.68,1111.15,545.59,1107.56,558.5C1103.96,571.41,1100.37,606.33,1096.78,602.25C1093.19,598.17,1089.59,555.08,1086,551.5C1082.41,547.92,1078.81,583.83,1075.22,598.75C1071.63,613.67,1068.04,607.59,1064.44,590C1060.85,572.41,1057.26,543.3,1053.67,541C1050.07,538.7,1046.48,563.22,1042.89,569C1039.3,574.78,1035.7,561.83,1032.11,560.25C1028.52,558.67,1024.93,568.47,1021.33,581.25C1017.74,594.03,1014.15,609.78,1010.56,600.5C1006.96,591.22,1003.37,556.89,999.78,558.5C996.19,560.11,992.59,597.64,989,597C985.41,596.36,981.81,557.53,978.22,553.25C974.63,548.97,971.04,579.23,967.44,590C963.85,600.77,960.26,592.05,956.67,584.75C953.07,577.45,949.48,571.56,945.89,576C942.3,580.44,938.7,595.2,935.11,602.25C931.52,609.3,927.93,608.62,924.33,591.75C920.74,574.88,917.15,541.8,913.56,544.5C909.96,547.2,906.37,585.68,902.78,595.25C899.19,604.82,895.59,585.48,892,581.25C888.41,577.02,884.81,587.9,881.22,586.5C877.63,585.1,874.04,571.42,870.44,574.25C866.85,577.08,863.26,596.42,859.67,604C856.07,611.58,852.48,607.39,848.89,600.5C845.3,593.61,841.7,584.02,838.11,584.75C834.52,585.48,830.93,596.54,827.33,593.5C823.74,590.46,820.15,573.31,816.56,563.75C812.96,554.19,809.37,552.22,805.78,551.5C802.19,550.78,798.59,551.3,795,555C791.41,558.7,787.81,565.56,784.22,558.5C780.63,551.44,777.04,530.46,773.44,539.25C769.85,548.04,766.26,586.6,762.67,597C759.07,607.4,755.48,589.63,751.89,583C748.3,576.37,744.7,580.88,741.11,577.75C737.52,574.62,733.93,563.85,730.33,567.25C726.74,570.65,723.15,588.23,719.56,593.5C715.96,598.77,712.37,591.75,708.78,588.25C705.19,584.75,701.59,584.78,698,572.5C694.41,560.22,690.81,535.62,687.22,534C683.63,532.38,680.04,553.75,676.44,556.75C672.85,559.75,669.26,544.37,665.67,551.5C662.07,558.63,658.48,588.28,654.89,591.75C651.3,595.22,647.7,572.5,644.11,570.75C640.52,569,636.93,588.23,633.33,586.5C629.74,584.77,626.15,562.09,622.56,558.5C618.96,554.91,615.37,570.42,611.78,583C608.19,595.58,604.59,605.22,601,593.5C597.41,581.78,593.81,548.68,590.22,551.5C586.63,554.32,583.04,593.06,579.44,602.25C575.85,611.44,572.26,591.09,568.67,581.25C565.07,571.41,561.48,572.08,557.89,574.25C554.3,576.42,550.7,580.08,547.11,584.75C543.52,589.42,539.93,595.1,536.33,595.25C532.74,595.4,529.15,590.03,525.56,590C521.96,589.97,518.37,595.3,514.78,598.75C511.19,602.2,507.59,603.78,504,593.5C500.41,583.22,496.81,561.08,493.22,553.25C489.63,545.42,486.04,551.88,482.44,562C478.85,572.12,475.26,585.88,471.67,591.75C468.07,597.62,464.48,595.6,460.89,595.25C457.3,594.9,453.7,596.23,450.11,586.5C446.52,576.77,442.93,555.98,439.33,558.5C435.74,561.02,432.15,586.86,428.56,588.25C424.96,589.64,421.37,566.57,417.78,563.75C414.19,560.93,410.59,578.35,407,591.75C403.41,605.15,399.81,614.51,396.22,605.75C392.63,596.99,389.04,570.09,385.44,569C381.85,567.91,378.26,592.63,374.67,593.5C371.07,594.37,367.48,571.41,363.89,565.5C360.3,559.59,356.7,570.74,353.11,574.25C349.52,577.76,345.93,573.64,342.33,579.5C338.74,585.36,335.15,601.2,331.56,604C327.96,606.8,324.37,596.55,320.78,593.5C317.19,590.45,313.59,594.6,310,598.75Z" fill="url(#gd)"/><path d="M310,598.75C313.59,594.6,317.19,590.45,320.78,593.5C324.37,596.55,327.96,606.8,331.56,604C335.15,601.2,338.74,585.36,342.33,579.5C345.93,573.64,349.52,577.76,353.11,574.25C356.7,570.74,360.3,559.59,363.89,565.5C367.48,571.41,371.07,594.37,374.67,593.5C378.26,592.63,381.85,567.91,385.44,569C389.04,570.09,392.63,596.99,396.22,605.75C399.81,614.51,403.41,605.15,407,591.75C410.59,578.35,414.19,560.93,417.78,563.75C421.37,566.57,424.96,589.64,428.56,588.25C432.15,586.86,435.74,561.02,439.33,558.5C442.93,555.98,446.52,576.77,450.11,586.5C453.7,596.23,457.3,594.9,460.89,595.25C464.48,595.6,468.07,597.62,471.67,591.75C475.26,585.88,478.85,572.12,482.44,562C486.04,551.88,489.63,545.42,493.22,553.25C496.81,561.08,500.41,583.22,504,593.5C507.59,603.78,511.19,602.2,514.78,598.75C518.37,595.3,521.96,589.97,525.56,590C529.15,590.03,532.74,595.4,536.33,595.25C539.93,595.1,543.52,589.42,547.11,584.75C550.7,580.08,554.3,576.42,557.89,574.25C561.48,572.08,565.07,571.41,568.67,581.25C572.26,591.09,575.85,611.44,579.44,602.25C583.04,593.06,586.63,554.32,590.22,551.5C593.81,548.68,597.41,581.78,601,593.5C604.59,605.22,608.19,595.58,611.78,583C615.37,570.42,618.96,554.91,622.56,558.5C626.15,562.09,629.74,584.77,633.33,586.5C636.93,588.23,640.52,569,644.11,570.75C647.7,572.5,651.3,595.22,654.89,591.75C658.48,588.28,662.07,558.63,665.67,551.5C669.26,544.37,672.85,559.75,676.44,556.75C680.04,553.75,683.63,532.38,687.22,534C690.81,535.62,694.41,560.22,698,572.5C701.59,584.78,705.19,584.75,708.78,588.25C712.37,591.75,715.96,598.77,719.56,593.5C723.15,588.23,726.74,570.65,730.33,567.25C733.93,563.85,737.52,574.62,741.11,577.75C744.7,580.88,748.3,576.37,751.89,583C755.48,589.63,759.07,607.4,762.67,597C766.26,586.6,769.85,548.04,773.44,539.25C777.04,530.46,780.63,551.44,784.22,558.5C787.81,565.56,791.41,558.7,795,555C798.59,551.3,802.19,550.78,805.78,551.5C809.37,552.22,812.96,554.19,816.56,563.75C820.15,573.31,823.74,590.46,827.33,593.5C830.93,596.54,834.52,585.48,838.11,584.75C841.7,584.02,845.3,593.61,848.89,600.5C852.48,607.39,856.07,611.58,859.67,604C863.26,596.42,866.85,577.08,870.44,574.25C874.04,571.42,877.63,585.1,881.22,586.5C884.81,587.9,888.41,577.02,892,581.25C895.59,585.48,899.19,604.82,902.78,595.25C906.37,585.68,909.96,547.2,913.56,544.5C917.15,541.8,920.74,574.88,924.33,591.75C927.93,608.62,931.52,609.3,935.11,602.25C938.7,595.2,942.3,580.44,945.89,576C949.48,571.56,953.07,577.45,956.67,584.75C960.26,592.05,963.85,600.77,967.44,590C971.04,579.23,974.63,548.97,978.22,553.25C981.81,557.53,985.41,596.36,989,597C992.59,597.64,996.19,560.11,999.78,558.5C1003.37,556.89,1006.96,591.22,1010.56,600.5C1014.15,609.78,1017.74,594.03,1021.33,581.25C1024.93,568.47,1028.52,558.67,1032.11,560.25C1035.7,561.83,1039.3,574.78,1042.89,569C1046.48,563.22,1050.07,538.7,1053.67,541C1057.26,543.3,1060.85,572.41,1064.44,590C1068.04,607.59,1071.63,613.67,1075.22,598.75C1078.81,583.83,1082.41,547.92,1086,551.5C1089.59,555.08,1093.19,598.17,1096.78,602.25C1100.37,606.33,1103.96,571.41,1107.56,558.5C1111.15,545.59,1114.74,554.68,1118.33,563.75C1121.93,572.82,1125.52,581.88,1129.11,570.75C1132.7,559.62,1136.3,528.29,1139.89,534C1143.48,539.71,1147.07,582.45,1150.67,595.25C1154.26,608.05,1157.85,590.92,1161.44,574.25C1165.04,557.58,1168.63,541.36,1172.22,546.25C1175.81,551.14,1179.41,577.13,1183,588.25C1186.59,599.37,1190.19,595.62,1193.78,577.75C1197.37,559.88,1200.96,527.9,1204.56,532.25C1208.15,536.6,1211.74,577.3,1215.33,593.5C1218.93,609.7,1222.52,601.41,1226.11,591.75C1229.7,582.09,1233.3,571.05,1236.89,558.5C1240.48,545.95,1244.07,531.9,1247.67,539.25C1251.26,546.6,1254.85,575.35,1258.44,590C1262.04,604.65,1265.63,605.18,1269.22,597C1272.81,588.82,1276.41,571.91,1280,555" fill="none" stroke="#171717" stroke-width="1"/><path d="M310,559.9C313.59,566.19,317.19,572.47,320.78,576.52C324.37,580.58,327.96,582.4,331.56,574.77C335.15,567.15,338.74,550.08,342.33,537.15C345.93,524.22,349.52,515.45,353.11,508.98C356.7,502.5,360.3,498.33,363.89,512.83C367.48,527.32,371.07,560.47,374.67,550.62C378.26,540.78,381.85,487.95,385.44,497.43C389.04,506.9,392.63,578.67,396.22,595.42C399.81,612.18,403.41,573.93,407,546.08C410.59,518.22,414.19,500.76,417.78,506.52C421.37,512.29,424.96,541.29,428.56,537.15C432.15,533.01,435.74,495.73,439.33,498.65C442.93,501.57,446.52,544.69,450.11,562.52C453.7,580.36,457.3,572.91,460.89,574.25C464.48,575.59,468.07,585.71,471.67,567.6C475.26,549.49,478.85,503.14,482.44,483.95C486.04,464.76,489.63,472.74,493.22,489.55C496.81,506.36,500.41,532.02,504,550.98C507.59,569.93,511.19,582.18,514.78,583.17C518.37,584.17,521.96,573.9,525.56,566.02C529.15,558.15,532.74,552.66,536.33,556.05C539.93,559.44,543.52,571.72,547.11,560.6C550.7,549.48,554.3,514.98,557.89,506.52C561.48,498.07,565.07,515.67,568.67,543.62C572.26,571.58,575.85,609.91,579.44,589.12C583.04,568.34,586.63,488.46,590.22,484.48C593.81,480.49,597.41,552.41,601,572.15C604.59,591.89,608.19,559.45,611.78,527.88C615.37,496.3,618.96,465.6,622.56,479.05C626.15,492.5,629.74,550.08,633.33,557.62C636.93,565.17,640.52,522.66,644.11,519.48C647.7,516.29,651.3,552.44,654.89,548.52C658.48,544.61,662.07,500.65,665.67,484.12C669.26,467.6,672.85,478.52,676.44,472.58C680.04,466.63,683.63,443.83,687.22,446.85C690.81,449.87,694.41,478.73,698,504.6C701.59,530.47,705.19,553.37,708.78,562.17C712.37,570.98,715.96,565.71,719.56,553.77C723.15,541.84,726.74,523.25,730.33,515.98C733.93,508.7,737.52,512.76,741.11,519.12C744.7,525.49,748.3,534.17,751.89,548.52C755.48,562.88,759.07,582.91,762.67,562.52C766.26,542.14,769.85,481.34,773.44,460.85C777.04,440.36,780.63,460.18,784.22,475.73C787.81,491.27,791.41,502.53,795,495.85C798.59,489.17,802.19,464.53,805.78,464.18C809.37,463.82,812.96,487.73,816.56,508.62C820.15,529.52,823.74,547.4,827.33,552.38C830.93,557.35,834.52,549.44,838.11,553.77C841.7,558.11,845.3,574.71,848.89,586.15C852.48,597.59,856.07,603.86,859.67,589.83C863.26,575.79,866.85,541.44,870.44,530.15C874.04,518.86,877.63,530.64,881.22,535.05C884.81,539.46,888.41,536.49,892,546.08C895.59,555.66,899.19,577.79,902.78,557.98C906.37,538.16,909.96,476.4,913.56,471C917.15,465.6,920.74,516.55,924.33,550.98C927.93,585.4,931.52,603.28,935.11,588.6C938.7,573.92,942.3,526.66,945.89,516.5C949.48,506.34,953.07,533.29,956.67,553.6C960.26,573.91,963.85,587.6,967.44,558.85C971.04,530.1,974.63,458.91,978.22,471C981.81,483.09,985.41,578.47,989,578.98C992.59,579.48,996.19,485.11,999.78,481.68C1003.37,478.24,1006.96,565.75,1010.56,585.1C1014.15,604.45,1017.74,555.64,1021.33,529.8C1024.93,503.96,1028.52,501.09,1032.11,503.73C1035.7,506.36,1039.3,514.51,1042.89,501.62C1046.48,488.74,1050.07,454.82,1053.67,464.35C1057.26,473.88,1060.85,526.84,1064.44,562.88C1068.04,598.91,1071.63,618,1075.22,582.65C1078.81,547.3,1082.41,457.52,1086,465.4C1089.59,473.28,1093.19,578.82,1096.78,588.08C1100.37,597.33,1103.96,510.29,1107.56,483.95C1111.15,457.61,1114.74,491.98,1118.33,510.02C1121.93,528.07,1125.52,529.8,1129.11,505.82C1132.7,481.85,1136.3,432.15,1139.89,450.88C1143.48,469.6,1147.07,556.73,1150.67,576.52C1154.26,596.32,1157.85,548.79,1161.44,514.58C1165.04,480.36,1168.63,459.46,1172.22,474.85C1175.81,490.24,1179.41,541.93,1183,558.67C1186.59,575.42,1190.19,557.23,1193.78,522.27C1197.37,487.32,1200.96,435.6,1204.56,448.25C1208.15,460.9,1211.74,537.93,1215.33,570.4C1218.93,602.87,1222.52,590.79,1226.11,567.08C1229.7,543.36,1233.3,508.02,1236.89,482.55C1240.48,457.08,1244.07,441.48,1247.67,460.85C1251.26,480.22,1254.85,534.57,1258.44,563.92C1262.04,593.28,1265.63,597.64,1269.22,578.98C1272.81,560.31,1276.41,518.63,1280,476.95" fill="none" stroke="#171717" stroke-width="1"/><circle cx="417.77777777777777" cy="506.525" r="3.8" fill="#1a1a1a"/><circle cx="417.77777777777777" cy="563.75" r="3.8" fill="#1a1a1a"/><text x="320.78" y="647.5" text-anchor="middle" class="ax">Apr 2</text><text x="385.44" y="647.5" text-anchor="middle" class="ax">Apr 8</text><text x="450.11" y="647.5" text-anchor="middle" class="ax">Apr 14</text><text x="525.56" y="647.5" text-anchor="middle" class="ax">Apr 21</text><text x="601.0" y="647.5" text-anchor="middle" class="ax">Apr 28</text><text x="676.44" y="647.5" text-anchor="middle" class="ax">May 5</text><text x="751.89" y="647.5" text-anchor="middle" class="ax">May 12</text><text x="827.33" y="647.5" text-anchor="middle" class="ax">May 19</text><text x="902.78" y="647.5" text-anchor="middle" class="ax">May 26</text><text x="978.22" y="647.5" text-anchor="middle" class="ax">Jun 2</text><text x="1042.89" y="647.5" text-anchor="middle" class="ax">Jun 8</text><text x="1118.33" y="647.5" text-anchor="middle" class="ax">Jun 15</text><text x="1193.78" y="647.5" text-anchor="middle" class="ax">Jun 22</text><text x="1284.3" y="647.5" text-anchor="end" class="ax">Jun 30</text></svg>
<div class="tip" style="left:428.2px;top:547.8px;width:127.4px;height:65.4px;"></div>
<div id="t46" class="t med" style="left:439.3px;top:554.5px;font-size:12px;line-height:16px;color:#0a0a0a;letter-spacing:-0.2px;">Apr 11</div>
<div class="b" style="left:438.7px;top:577.6px;width:10px;height:10px;background:#1a1a1a;border-radius:2px;"></div>
<div class="b" style="left:438.7px;top:595.4px;width:10px;height:10px;background:#1a1a1a;border-radius:2px;"></div>
<div id="t47" class="t" style="left:456.5px;top:574.6px;font-size:12px;line-height:16px;color:#737373;letter-spacing:0.34px;">Mobile</div>
<div id="t48" class="t" style="left:456.5px;top:592.4px;font-size:12px;line-height:16px;color:#737373;letter-spacing:0.467px;">Desktop</div>
<div id="t49" class="t" style="right:788.5px;top:574.6px;font-size:12px;line-height:16px;color:#0a0a0a;letter-spacing:0.35px;font-family:'Liberation Mono',monospace;">350</div>
<div id="t50" class="t" style="right:788.0px;top:592.4px;font-size:12px;line-height:16px;color:#0a0a0a;letter-spacing:0.6px;font-family:'Liberation Mono',monospace;">327</div>
<div class="b" style="left:280.4px;top:709px;width:504.6px;height:35.8px;background:#f3f3f3;border-radius:10px;"></div>
<div class="b" style="left:283px;top:712.5px;width:66px;height:29px;background:#fff;border-radius:8px;box-shadow:0 1px 3px rgba(0,0,0,0.08);"></div>
<div id="t51" class="t med" style="left:291.8px;top:717.2px;font-size:14px;line-height:20px;color:#0a0a0a;letter-spacing:0.617px;">Outline</div>
<div id="t52" class="t med" style="left:357.7px;top:717.2px;font-size:14px;line-height:20px;color:#0a0a0a;letter-spacing:0.333px;">Past Performance</div>
<div class="b" style="left:481.2px;top:717.1px;width:19.6px;height:19.6px;background:#cfcfcf;border-radius:10px;"></div>
<div id="t53" class="t med" style="left:486.1px;top:717.2px;font-size:12px;line-height:20px;color:#262626;letter-spacing:6.2px;">3</div>
<div id="t54" class="t med" style="left:518.5px;top:717.2px;font-size:14px;line-height:20px;color:#0a0a0a;letter-spacing:0.133px;">Key Personnel</div>
<div class="b" style="left:617.6px;top:717.1px;width:19.6px;height:19.6px;background:#cfcfcf;border-radius:10px;"></div>
<div id="t55" class="t med" style="left:624.1px;top:717.2px;font-size:12px;line-height:20px;color:#262626;letter-spacing:2.1px;">2</div>
<div id="t56" class="t med" style="left:655.1px;top:717.2px;font-size:14px;line-height:20px;color:#0a0a0a;letter-spacing:0.357px;">Focus Documents</div>
<div class="btn" style="left:981.6px;top:711.4px;width:196px;height:31.6px;"></div>
<svg class="ic" style="left:992.2px;top:719px;width:16px;height:16px" viewBox="0 0 24 24" fill="none" stroke="#0a0a0a" stroke-width="2" stroke-linecap="round" stroke-linejoin="round"><path d="M4 4m0 2a2 2 0 0 1 2 -2h12a2 2 0 0 1 2 2v12a2 2 0 0 1 -2 2h-12a2 2 0 0 1 -2 -2z"/><path d="M12 4l0 16"/></svg>
<div id="t57" class="t med" style="left:1013.8px;top:717.0px;font-size:14px;line-height:20px;color:#0a0a0a;letter-spacing:0.356px;">Customize Columns</div>
<svg class="ic" style="left:1151px;top:719px;width:16px;height:16px" viewBox="0 0 24 24" fill="none" stroke="#0a0a0a" stroke-width="2" stroke-linecap="round" stroke-linejoin="round"><path d="M6 9l6 6l6 -6"/></svg>
<div class="btn" style="left:1186.6px;top:711.4px;width:123px;height:31.6px;"></div>
<svg class="ic" style="left:1197px;top:719px;width:16px;height:16px" viewBox="0 0 24 24" fill="none" stroke="#0a0a0a" stroke-width="2" stroke-linecap="round" stroke-linejoin="round"><path d="M12 5l0 14"/><path d="M5 12l14 0"/></svg>
<div id="t58" class="t med" style="left:1219.5px;top:717.0px;font-size:14px;line-height:20px;color:#0a0a0a;letter-spacing:0.43px;">Add Section</div>
<div class="b" style="left:280px;top:769px;width:1030px;height:572px;border:1px solid #e5e5e5;border-radius:10px;box-sizing:border-box;overflow:hidden;"></div>
<div class="b" style="left:281px;top:770px;width:1028px;height:40px;background:#f3f3f3;border-radius:9px 9px 0 0;"></div>
<div class="b" style="left:281px;top:809.5px;width:1028px;height:1px;background:#e5e5e5;"></div>
<div class="cb" style="left:334px;top:782px;"></div>
<div id="t59" class="t med" style="left:357.5px;top:779.8px;font-size:14px;line-height:20px;color:#0a0a0a;letter-spacing:0.2px;">Header</div>
<div id="t60" class="t med" style="left:671.9px;top:779.8px;font-size:14px;line-height:20px;color:#0a0a0a;letter-spacing:0.373px;">Section Type</div>
<div id="t61" class="t med" style="left:820.2px;top:779.8px;font-size:14px;line-height:20px;color:#0a0a0a;letter-spacing:0.7px;">Status</div>
<div id="t62" class="t med" style="right:338.7px;top:779.8px;font-size:14px;line-height:20px;color:#0a0a0a;letter-spacing:0.42px;">Target</div>
<div id="t63" class="t med" style="right:256.3px;top:779.8px;font-size:14px;line-height:20px;color:#0a0a0a;letter-spacing:0.525px;">Limit</div>
<div id="t64" class="t med" style="left:1094.0px;top:779.8px;font-size:14px;line-height:20px;color:#0a0a0a;letter-spacing:0.214px;">Reviewer</div>
<div class="b" style="left:281px;top:862.5px;width:1028px;height:1px;background:#e5e5e5;"></div>
<svg class="ic" style="left:297px;top:830.5px;width:12px;height:12px" viewBox="0 0 24 24" fill="none" stroke="#737373" stroke-width="2" stroke-linecap="round" stroke-linejoin="round"><path d="M9 5m-1 0a1 1 0 1 0 2 0a1 1 0 1 0 -2 0"/><path d="M9 12m-1 0a1 1 0 1 0 2 0a1 1 0 1 0 -2 0"/><path d="M9 19m-1 0a1 1 0 1 0 2 0a1 1 0 1 0 -2 0"/><path d="M15 5m-1 0a1 1 0 1 0 2 0a1 1 0 1 0 -2 0"/><path d="M15 12m-1 0a1 1 0 1 0 2 0a1 1 0 1 0 -2 0"/><path d="M15 19m-1 0a1 1 0 1 0 2 0a1 1 0 1 0 -2 0"/></svg>
<div class="cb" style="left:334px;top:828.5px;"></div>
<div id="t65" class="t med" style="left:357.9px;top:827.1px;font-size:14px;line-height:20px;color:#0a0a0a;letter-spacing:0.233px;">Cover page</div>
<div class="bdg" style="left:671.6px;top:825.7px;"><span id="t66" class="med" style="letter-spacing:0.244px;">Cover page</span></div>
<div class="bdg" style="left:820.9px;top:825.7px;"><svg class="bi" style="left:0px;top:0px;width:12px;height:12px" viewBox="0 0 24 24" fill="none" stroke="#737373" stroke-width="2" stroke-linecap="round" stroke-linejoin="round"><path d="M12 6l0 -3"/><path d="M16.25 7.75l2.15 -2.15"/><path d="M18 12l3 0"/><path d="M16.25 16.25l2.15 2.15"/><path d="M12 18l0 3"/><path d="M7.75 16.25l-2.15 2.15"/><path d="M6 12l-3 0"/><path d="M7.75 7.75l-2.15 -2.15"/></svg><span id="t67" class="med" style="letter-spacing:0.311px;">In Process</span></div>
<div id="t68" class="t" style="right:354.7px;top:827.1px;font-size:14px;line-height:20px;color:#0a0a0a;">18</div>
<div id="t69" class="t" style="right:272.5px;top:827.1px;font-size:14px;line-height:20px;color:#0a0a0a;">5</div>
<div id="t70" class="t" style="left:1093.7px;top:827.1px;font-size:14px;line-height:20px;color:#0a0a0a;">Eddie Lake</div>
<svg class="ic" style="left:1275.5px;top:828.5px;width:16px;height:16px" viewBox="0 0 24 24" fill="none" stroke="#666666" stroke-width="2" stroke-linecap="round" stroke-linejoin="round"><path d="M12 12m-1 0a1 1 0 1 0 2 0a1 1 0 1 0 -2 0"/><path d="M12 19m-1 0a1 1 0 1 0 2 0a1 1 0 1 0 -2 0"/><path d="M12 5m-1 0a1 1 0 1 0 2 0a1 1 0 1 0 -2 0"/></svg>
<div class="b" style="left:281px;top:915.5px;width:1028px;height:1px;background:#e5e5e5;"></div>
<svg class="ic" style="left:297px;top:883.5px;width:12px;height:12px" viewBox="0 0 24 24" fill="none" stroke="#737373" stroke-width="2" stroke-linecap="round" stroke-linejoin="round"><path d="M9 5m-1 0a1 1 0 1 0 2 0a1 1 0 1 0 -2 0"/><path d="M9 12m-1 0a1 1 0 1 0 2 0a1 1 0 1 0 -2 0"/><path d="M9 19m-1 0a1 1 0 1 0 2 0a1 1 0 1 0 -2 0"/><path d="M15 5m-1 0a1 1 0 1 0 2 0a1 1 0 1 0 -2 0"/><path d="M15 12m-1 0a1 1 0 1 0 2 0a1 1 0 1 0 -2 0"/><path d="M15 19m-1 0a1 1 0 1 0 2 0a1 1 0 1 0 -2 0"/></svg>
<div class="cb" style="left:334px;top:881.5px;"></div>
<div id="t71" class="t med" style="left:358.4px;top:880.1px;font-size:14px;line-height:20px;color:#0a0a0a;letter-spacing:0.412px;">Table of contents</div>
<div class="bdg" style="left:671.6px;top:878.7px;"><span id="t72" class="med" style="letter-spacing:0.369px;">Table of contents</span></div>
<div class="bdg" style="left:820.9px;top:878.7px;"><svg class="bi" style="left:0px;top:0px;width:12px;height:12px" viewBox="0 0 24 24" fill="#22c55e" stroke="none"><path d="M17 3.34a10 10 0 1 1 -14.995 8.984l-.005 -.324l.005 -.324a10 10 0 0 1 14.995 -8.336zm-1.293 5.953a1 1 0 0 0 -1.32 -.083l-.094 .083l-3.293 3.292l-1.293 -1.292l-.094 -.083a1 1 0 0 0 -1.403 1.403l.083 .094l2 2l.094 .083a1 1 0 0 0 1.226 0l.094 -.083l4 -4l.083 -.094a1 1 0 0 0 -.083 -1.32z"/></svg><span id="t73" class="med" style="letter-spacing:0.367px;">Done</span></div>
<div id="t74" class="t" style="right:354.7px;top:880.1px;font-size:14px;line-height:20px;color:#0a0a0a;">29</div>
<div id="t75" class="t" style="right:272.5px;top:880.1px;font-size:14px;line-height:20px;color:#0a0a0a;">24</div>
<div id="t76" class="t" style="left:1093.7px;top:880.1px;font-size:14px;line-height:20px;color:#0a0a0a;">Eddie Lake</div>
<svg class="ic" style="left:1275.5px;top:881.5px;width:16px;height:16px" viewBox="0 0 24 24" fill="none" stroke="#666666" stroke-width="2" stroke-linecap="round" stroke-linejoin="round"><path d="M12 12m-1 0a1 1 0 1 0 2 0a1 1 0 1 0 -2 0"/><path d="M12 19m-1 0a1 1 0 1 0 2 0a1 1 0 1 0 -2 0"/><path d="M12 5m-1 0a1 1 0 1 0 2 0a1 1 0 1 0 -2 0"/></svg>
<div class="b" style="left:281px;top:968.5px;width:1028px;height:1px;background:#e5e5e5;"></div>
<svg class="ic" style="left:297px;top:936.5px;width:12px;height:12px" viewBox="0 0 24 24" fill="none" stroke="#737373" stroke-width="2" stroke-linecap="round" stroke-linejoin="round"><path d="M9 5m-1 0a1 1 0 1 0 2 0a1 1 0 1 0 -2 0"/><path d="M9 12m-1 0a1 1 0 1 0 2 0a1 1 0 1 0 -2 0"/><path d="M9 19m-1 0a1 1 0 1 0 2 0a1 1 0 1 0 -2 0"/><path d="M15 5m-1 0a1 1 0 1 0 2 0a1 1 0 1 0 -2 0"/><path d="M15 12m-1 0a1 1 0 1 0 2 0a1 1 0 1 0 -2 0"/><path d="M15 19m-1 0a1 1 0 1 0 2 0a1 1 0 1 0 -2 0"/></svg>
<div class="cb" style="left:334px;top:934.5px;"></div>
<div id="t77" class="t med" style="left:357.4px;top:933.1px;font-size:14px;line-height:20px;color:#0a0a0a;letter-spacing:0.375px;">Executive summary</div>
<div class="bdg" style="left:671.6px;top:931.7px;"><span id="t78" class="med" style="letter-spacing:0.45px;">Narrative</span></div>
<div class="bdg" style="left:820.9px;top:931.7px;"><svg class="bi" style="left:0px;top:0px;width:12px;height:12px" viewBox="0 0 24 24" fill="#22c55e" stroke="none"><path d="M17 3.34a10 10 0 1 1 -14.995 8.984l-.005 -.324l.005 -.324a10 10 0 0 1 14.995 -8.336zm-1.293 5.953a1 1 0 0 0 -1.32 -.083l-.094 .083l-3.293 3.292l-1.293 -1.292l-.094 -.083a1 1 0 0 0 -1.403 1.403l.083 .094l2 2l.094 .083a1 1 0 0 0 1.226 0l.094 -.083l4 -4l.083 -.094a1 1 0 0 0 -.083 -1.32z"/></svg><span id="t79" class="med" style="letter-spacing:0.367px;">Done</span></div>
<div id="t80" class="t" style="right:354.7px;top:933.1px;font-size:14px;line-height:20px;color:#0a0a0a;">10</div>
<div id="t81" class="t" style="right:272.5px;top:933.1px;font-size:14px;line-height:20px;color:#0a0a0a;">13</div>
<div id="t82" class="t" style="left:1093.7px;top:933.1px;font-size:14px;line-height:20px;color:#0a0a0a;">Eddie Lake</div>
<svg class="ic" style="left:1275.5px;top:934.5px;width:16px;height:16px" viewBox="0 0 24 24" fill="none" stroke="#666666" stroke-width="2" stroke-linecap="round" stroke-linejoin="round"><path d="M12 12m-1 0a1 1 0 1 0 2 0a1 1 0 1 0 -2 0"/><path d="M12 19m-1 0a1 1 0 1 0 2 0a1 1 0 1 0 -2 0"/><path d="M12 5m-1 0a1 1 0 1 0 2 0a1 1 0 1 0 -2 0"/></svg>
<div class="b" style="left:281px;top:1021.5px;width:1028px;height:1px;background:#e5e5e5;"></div>
<svg class="ic" style="left:297px;top:989.5px;width:12px;height:12px" viewBox="0 0 24 24" fill="none" stroke="#737373" stroke-width="2" stroke-linecap="round" stroke-linejoin="round"><path d="M9 5m-1 0a1 1 0 1 0 2 0a1 1 0 1 0 -2 0"/><path d="M9 12m-1 0a1 1 0 1 0 2 0a1 1 0 1 0 -2 0"/><path d="M9 19m-1 0a1 1 0 1 0 2 0a1 1 0 1 0 -2 0"/><path d="M15 5m-1 0a1 1 0 1 0 2 0a1 1 0 1 0 -2 0"/><path d="M15 12m-1 0a1 1 0 1 0 2 0a1 1 0 1 0 -2 0"/><path d="M15 19m-1 0a1 1 0 1 0 2 0a1 1 0 1 0 -2 0"/></svg>
<div class="cb" style="left:334px;top:987.5px;"></div>
<div id="t83" class="t med" style="left:358.4px;top:986.1px;font-size:14px;line-height:20px;color:#0a0a0a;letter-spacing:0.318px;">Technical approach</div>
<div class="bdg" style="left:671.6px;top:984.7px;"><span id="t84" class="med" style="letter-spacing:0.45px;">Narrative</span></div>
<div class="bdg" style="left:820.9px;top:984.7px;"><svg class="bi" style="left:0px;top:0px;width:12px;height:12px" viewBox="0 0 24 24" fill="#22c55e" stroke="none"><path d="M17 3.34a10 10 0 1 1 -14.995 8.984l-.005 -.324l.005 -.324a10 10 0 0 1 14.995 -8.336zm-1.293 5.953a1 1 0 0 0 -1.32 -.083l-.094 .083l-3.293 3.292l-1.293 -1.292l-.094 -.083a1 1 0 0 0 -1.403 1.403l.083 .094l2 2l.094 .083a1 1 0 0 0 1.226 0l.094 -.083l4 -4l.083 -.094a1 1 0 0 0 -.083 -1.32z"/></svg><span id="t85" class="med" style="letter-spacing:0.367px;">Done</span></div>
<div id="t86" class="t" style="right:354.7px;top:986.1px;font-size:14px;line-height:20px;color:#0a0a0a;">27</div>
<div id="t87" class="t" style="right:272.5px;top:986.1px;font-size:14px;line-height:20px;color:#0a0a0a;">23</div>
<div id="t88" class="t" style="left:1094.7px;top:986.1px;font-size:14px;line-height:20px;color:#0a0a0a;letter-spacing:0.275px;">Jamik Tashpulatov</div>
<svg class="ic" style="left:1275.5px;top:987.5px;width:16px;height:16px" viewBox="0 0 24 24" fill="none" stroke="#666666" stroke-width="2" stroke-linecap="round" stroke-linejoin="round"><path d="M12 12m-1 0a1 1 0 1 0 2 0a1 1 0 1 0 -2 0"/><path d="M12 19m-1 0a1 1 0 1 0 2 0a1 1 0 1 0 -2 0"/><path d="M12 5m-1 0a1 1 0 1 0 2 0a1 1 0 1 0 -2 0"/></svg>
<div class="b" style="left:281px;top:1074.5px;width:1028px;height:1px;background:#e5e5e5;"></div>
<svg class="ic" style="left:297px;top:1042.5px;width:12px;height:12px" viewBox="0 0 24 24" fill="none" stroke="#737373" stroke-width="2" stroke-linecap="round" stroke-linejoin="round"><path d="M9 5m-1 0a1 1 0 1 0 2 0a1 1 0 1 0 -2 0"/><path d="M9 12m-1 0a1 1 0 1 0 2 0a1 1 0 1 0 -2 0"/><path d="M9 19m-1 0a1 1 0 1 0 2 0a1 1 0 1 0 -2 0"/><path d="M15 5m-1 0a1 1 0 1 0 2 0a1 1 0 1 0 -2 0"/><path d="M15 12m-1 0a1 1 0 1 0 2 0a1 1 0 1 0 -2 0"/><path d="M15 19m-1 0a1 1 0 1 0 2 0a1 1 0 1 0 -2 0"/></svg>
<div class="cb" style="left:334px;top:1040.5px;"></div>
<div id="t89" class="t med" style="left:357.4px;top:1039.1px;font-size:14px;line-height:20px;color:#0a0a0a;letter-spacing:0.52px;">Design</div>
<div class="bdg" style="left:671.6px;top:1037.7px;"><span id="t90" class="med" style="letter-spacing:0.45px;">Narrative</span></div>
<div class="bdg" style="left:820.9px;top:1037.7px;"><svg class="bi" style="left:0px;top:0px;width:12px;height:12px" viewBox="0 0 24 24" fill="none" stroke="#737373" stroke-width="2" stroke-linecap="round" stroke-linejoin="round"><path d="M12 6l0 -3"/><path d="M16.25 7.75l2.15 -2.15"/><path d="M18 12l3 0"/><path d="M16.25 16.25l2.15 2.15"/><path d="M12 18l0 3"/><path d="M7.75 16.25l-2.15 2.15"/><path d="M6 12l-3 0"/><path d="M7.75 7.75l-2.15 -2.15"/></svg><span id="t91" class="med" style="letter-spacing:0.311px;">In Process</span></div>
<div id="t92" class="t" style="right:354.7px;top:1039.1px;font-size:14px;line-height:20px;color:#0a0a0a;">2</div>
<div id="t93" class="t" style="right:272.5px;top:1039.1px;font-size:14px;line-height:20px;color:#0a0a0a;">16</div>
<div id="t94" class="t" style="left:1094.7px;top:1039.1px;font-size:14px;line-height:20px;color:#0a0a0a;letter-spacing:0.275px;">Jamik Tashpulatov</div>
<svg class="ic" style="left:1275.5px;top:1040.5px;width:16px;height:16px" viewBox="0 0 24 24" fill="none" stroke="#666666" stroke-width="2" stroke-linecap="round" stroke-linejoin="round"><path d="M12 12m-1 0a1 1 0 1 0 2 0a1 1 0 1 0 -2 0"/><path d="M12 19m-1 0a1 1 0 1 0 2 0a1 1 0 1 0 -2 0"/><path d="M12 5m-1 0a1 1 0 1 0 2 0a1 1 0 1 0 -2 0"/></svg>
<div class="b" style="left:281px;top:1127.5px;width:1028px;height:1px;background:#e5e5e5;"></div>
<svg class="ic" style="left:297px;top:1095.5px;width:12px;height:12px" viewBox="0 0 24 24" fill="none" stroke="#737373" stroke-width="2" stroke-linecap="round" stroke-linejoin="round"><path d="M9 5m-1 0a1 1 0 1 0 2 0a1 1 0 1 0 -2 0"/><path d="M9 12m-1 0a1 1 0 1 0 2 0a1 1 0 1 0 -2 0"/><path d="M9 19m-1 0a1 1 0 1 0 2 0a1 1 0 1 0 -2 0"/><path d="M15 5m-1 0a1 1 0 1 0 2 0a1 1 0 1 0 -2 0"/><path d="M15 12m-1 0a1 1 0 1 0 2 0a1 1 0 1 0 -2 0"/><path d="M15 19m-1 0a1 1 0 1 0 2 0a1 1 0 1 0 -2 0"/></svg>
<div class="cb" style="left:334px;top:1093.5px;"></div>
<div id="t95" class="t med" style="left:357.9px;top:1092.1px;font-size:14px;line-height:20px;color:#0a0a0a;letter-spacing:0.4px;">Capabilities</div>
<div class="bdg" style="left:671.6px;top:1090.7px;"><span id="t96" class="med" style="letter-spacing:0.45px;">Narrative</span></div>
<div class="bdg" style="left:820.9px;top:1090.7px;"><svg class="bi" style="left:0px;top:0px;width:12px;height:12px" viewBox="0 0 24 24" fill="none" stroke="#737373" stroke-width="2" stroke-linecap="round" stroke-linejoin="round"><path d="M12 6l0 -3"/><path d="M16.25 7.75l2.15 -2.15"/><path d="M18 12l3 0"/><path d="M16.25 16.25l2.15 2.15"/><path d="M12 18l0 3"/><path d="M7.75 16.25l-2.15 2.15"/><path d="M6 12l-3 0"/><path d="M7.75 7.75l-2.15 -2.15"/></svg><span id="t97" class="med" style="letter-spacing:0.311px;">In Process</span></div>
<div id="t98" class="t" style="right:354.7px;top:1092.1px;font-size:14px;line-height:20px;color:#0a0a0a;">20</div>
<div id="t99" class="t" style="right:272.5px;top:1092.1px;font-size:14px;line-height:20px;color:#0a0a0a;">8</div>
<div id="t100" class="t" style="left:1094.7px;top:1092.1px;font-size:14px;line-height:20px;color:#0a0a0a;letter-spacing:0.275px;">Jamik Tashpulatov</div>
<svg class="ic" style="left:1275.5px;top:1093.5px;width:16px;height:16px" viewBox="0 0 24 24" fill="none" stroke="#666666" stroke-width="2" stroke-linecap="round" stroke-linejoin="round"><path d="M12 12m-1 0a1 1 0 1 0 2 0a1 1 0 1 0 -2 0"/><path d="M12 19m-1 0a1 1 0 1 0 2 0a1 1 0 1 0 -2 0"/><path d="M12 5m-1 0a1 1 0 1 0 2 0a1 1 0 1 0 -2 0"/></svg>
<div class="b" style="left:281px;top:1180.5px;width:1028px;height:1px;background:#e5e5e5;"></div>
<svg class="ic" style="left:297px;top:1148.5px;width:12px;height:12px" viewBox="0 0 24 24" fill="none" stroke="#737373" stroke-width="2" stroke-linecap="round" stroke-linejoin="round"><path d="M9 5m-1 0a1 1 0 1 0 2 0a1 1 0 1 0 -2 0"/><path d="M9 12m-1 0a1 1 0 1 0 2 0a1 1 0 1 0 -2 0"/><path d="M9 19m-1 0a1 1 0 1 0 2 0a1 1 0 1 0 -2 0"/><path d="M15 5m-1 0a1 1 0 1 0 2 0a1 1 0 1 0 -2 0"/><path d="M15 12m-1 0a1 1 0 1 0 2 0a1 1 0 1 0 -2 0"/><path d="M15 19m-1 0a1 1 0 1 0 2 0a1 1 0 1 0 -2 0"/></svg>
<div class="cb" style="left:334px;top:1146.5px;"></div>
<div id="t101" class="t med" style="left:357.4px;top:1145.1px;font-size:14px;line-height:20px;color:#0a0a0a;letter-spacing:0.484px;">Integration with existing systems</div>
<div class="bdg" style="left:671.6px;top:1143.7px;"><span id="t102" class="med" style="letter-spacing:0.45px;">Narrative</span></div>
<div class="bdg" style="left:820.9px;top:1143.7px;"><svg class="bi" style="left:0px;top:0px;width:12px;height:12px" viewBox="0 0 24 24" fill="none" stroke="#737373" stroke-width="2" stroke-linecap="round" stroke-linejoin="round"><path d="M12 6l0 -3"/><path d="M16.25 7.75l2.15 -2.15"/><path d="M18 12l3 0"/><path d="M16.25 16.25l2.15 2.15"/><path d="M12 18l0 3"/><path d="M7.75 16.25l-2.15 2.15"/><path d="M6 12l-3 0"/><path d="M7.75 7.75l-2.15 -2.15"/></svg><span id="t103" class="med" style="letter-spacing:0.311px;">In Process</span></div>
<div id="t104" class="t" style="right:354.7px;top:1145.1px;font-size:14px;line-height:20px;color:#0a0a0a;">19</div>
<div id="t105" class="t" style="right:272.5px;top:1145.1px;font-size:14px;line-height:20px;color:#0a0a0a;">21</div>
<div id="t106" class="t" style="left:1094.7px;top:1145.1px;font-size:14px;line-height:20px;color:#0a0a0a;letter-spacing:0.275px;">Jamik Tashpulatov</div>
<svg class="ic" style="left:1275.5px;top:1146.5px;width:16px;height:16px" viewBox="0 0 24 24" fill="none" stroke="#666666" stroke-width="2" stroke-linecap="round" stroke-linejoin="round"><path d="M12 12m-1 0a1 1 0 1 0 2 0a1 1 0 1 0 -2 0"/><path d="M12 19m-1 0a1 1 0 1 0 2 0a1 1 0 1 0 -2 0"/><path d="M12 5m-1 0a1 1 0 1 0 2 0a1 1 0 1 0 -2 0"/></svg>
<div class="b" style="left:281px;top:1233.5px;width:1028px;height:1px;background:#e5e5e5;"></div>
<svg class="ic" style="left:297px;top:1201.5px;width:12px;height:12px" viewBox="0 0 24 24" fill="none" stroke="#737373" stroke-width="2" stroke-linecap="round" stroke-linejoin="round"><path d="M9 5m-1 0a1 1 0 1 0 2 0a1 1 0 1 0 -2 0"/><path d="M9 12m-1 0a1 1 0 1 0 2 0a1 1 0 1 0 -2 0"/><path d="M9 19m-1 0a1 1 0 1 0 2 0a1 1 0 1 0 -2 0"/><path d="M15 5m-1 0a1 1 0 1 0 2 0a1 1 0 1 0 -2 0"/><path d="M15 12m-1 0a1 1 0 1 0 2 0a1 1 0 1 0 -2 0"/><path d="M15 19m-1 0a1 1 0 1 0 2 0a1 1 0 1 0 -2 0"/></svg>
<div class="cb" style="left:334px;top:1199.5px;"></div>
<div id="t107" class="t med" style="left:357.4px;top:1198.1px;font-size:14px;line-height:20px;color:#0a0a0a;letter-spacing:0.371px;">Innovation and Advantages</div>
<div class="bdg" style="left:671.6px;top:1196.7px;"><span id="t108" class="med" style="letter-spacing:0.45px;">Narrative</span></div>
<div class="bdg" style="left:820.9px;top:1196.7px;"><svg class="bi" style="left:0px;top:0px;width:12px;height:12px" viewBox="0 0 24 24" fill="#22c55e" stroke="none"><path d="M17 3.34a10 10 0 1 1 -14.995 8.984l-.005 -.324l.005 -.324a10 10 0 0 1 14.995 -8.336zm-1.293 5.953a1 1 0 0 0 -1.32 -.083l-.094 .083l-3.293 3.292l-1.293 -1.292l-.094 -.083a1 1 0 0 0 -1.403 1.403l.083 .094l2 2l.094 .083a1 1 0 0 0 1.226 0l.094 -.083l4 -4l.083 -.094a1 1 0 0 0 -.083 -1.32z"/></svg><span id="t109" class="med" style="letter-spacing:0.367px;">Done</span></div>
<div id="t110" class="t" style="right:354.7px;top:1198.1px;font-size:14px;line-height:20px;color:#0a0a0a;">25</div>
<div id="t111" class="t" style="right:272.5px;top:1198.1px;font-size:14px;line-height:20px;color:#0a0a0a;">26</div>
<div class="btn" style="left:1094.2px;top:1191.7px;width:152.4px;height:31.6px;"></div>
<div id="t112" class="t" style="left:1107.0px;top:1197.9px;font-size:14px;line-height:20px;color:#737373;letter-spacing:0.121px;">Assign reviewer</div>
<svg class="ic" style="left:1216.5px;top:1199.5px;width:16px;height:16px" viewBox="0 0 24 24" fill="none" stroke="#a3a3a3" stroke-width="2" stroke-linecap="round" stroke-linejoin="round"><path d="M6 9l6 6l6 -6"/></svg>
<svg class="ic" style="left:1275.5px;top:1199.5px;width:16px;height:16px" viewBox="0 0 24 24" fill="none" stroke="#666666" stroke-width="2" stroke-linecap="round" stroke-linejoin="round"><path d="M12 12m-1 0a1 1 0 1 0 2 0a1 1 0 1 0 -2 0"/><path d="M12 19m-1 0a1 1 0 1 0 2 0a1 1 0 1 0 -2 0"/><path d="M12 5m-1 0a1 1 0 1 0 2 0a1 1 0 1 0 -2 0"/></svg>
<div class="b" style="left:281px;top:1286.5px;width:1028px;height:1px;background:#e5e5e5;"></div>
<svg class="ic" style="left:297px;top:1254.5px;width:12px;height:12px" viewBox="0 0 24 24" fill="none" stroke="#737373" stroke-width="2" stroke-linecap="round" stroke-linejoin="round"><path d="M9 5m-1 0a1 1 0 1 0 2 0a1 1 0 1 0 -2 0"/><path d="M9 12m-1 0a1 1 0 1 0 2 0a1 1 0 1 0 -2 0"/><path d="M9 19m-1 0a1 1 0 1 0 2 0a1 1 0 1 0 -2 0"/><path d="M15 5m-1 0a1 1 0 1 0 2 0a1 1 0 1 0 -2 0"/><path d="M15 12m-1 0a1 1 0 1 0 2 0a1 1 0 1 0 -2 0"/><path d="M15 19m-1 0a1 1 0 1 0 2 0a1 1 0 1 0 -2 0"/></svg>
<div class="cb" style="left:334px;top:1252.5px;"></div>
<div id="t113" class="t med" style="left:357.9px;top:1251.1px;font-size:14px;line-height:20px;color:#0a0a0a;letter-spacing:0.276px;">Overview of EMR's Innovative Solutions</div>
<div class="bdg" style="left:671.6px;top:1249.7px;"><span id="t114" class="med" style="letter-spacing:0.338px;">Technical content</span></div>
<div class="bdg" style="left:820.9px;top:1249.7px;"><svg class="bi" style="left:0px;top:0px;width:12px;height:12px" viewBox="0 0 24 24" fill="#22c55e" stroke="none"><path d="M17 3.34a10 10 0 1 1 -14.995 8.984l-.005 -.324l.005 -.324a10 10 0 0 1 14.995 -8.336zm-1.293 5.953a1 1 0 0 0 -1.32 -.083l-.094 .083l-3.293 3.292l-1.293 -1.292l-.094 -.083a1 1 0 0 0 -1.403 1.403l.083 .094l2 2l.094 .083a1 1 0 0 0 1.226 0l.094 -.083l4 -4l.083 -.094a1 1 0 0 0 -.083 -1.32z"/></svg><span id="t115" class="med" style="letter-spacing:0.367px;">Done</span></div>
<div id="t116" class="t" style="right:354.7px;top:1251.1px;font-size:14px;line-height:20px;color:#0a0a0a;">7</div>
<div id="t117" class="t" style="right:272.5px;top:1251.1px;font-size:14px;line-height:20px;color:#0a0a0a;">23</div>
<div class="btn" style="left:1094.2px;top:1244.7px;width:152.4px;height:31.6px;"></div>
<div id="t118" class="t" style="left:1107.0px;top:1250.9px;font-size:14px;line-height:20px;color:#737373;letter-spacing:0.121px;">Assign reviewer</div>
<svg class="ic" style="left:1216.5px;top:1252.5px;width:16px;height:16px" viewBox="0 0 24 24" fill="none" stroke="#a3a3a3" stroke-width="2" stroke-linecap="round" stroke-linejoin="round"><path d="M6 9l6 6l6 -6"/></svg>
<svg class="ic" style="left:1275.5px;top:1252.5px;width:16px;height:16px" viewBox="0 0 24 24" fill="none" stroke="#666666" stroke-width="2" stroke-linecap="round" stroke-linejoin="round"><path d="M12 12m-1 0a1 1 0 1 0 2 0a1 1 0 1 0 -2 0"/><path d="M12 19m-1 0a1 1 0 1 0 2 0a1 1 0 1 0 -2 0"/><path d="M12 5m-1 0a1 1 0 1 0 2 0a1 1 0 1 0 -2 0"/></svg>
<svg class="ic" style="left:297px;top:1307.5px;width:12px;height:12px" viewBox="0 0 24 24" fill="none" stroke="#737373" stroke-width="2" stroke-linecap="round" stroke-linejoin="round"><path d="M9 5m-1 0a1 1 0 1 0 2 0a1 1 0 1 0 -2 0"/><path d="M9 12m-1 0a1 1 0 1 0 2 0a1 1 0 1 0 -2 0"/><path d="M9 19m-1 0a1 1 0 1 0 2 0a1 1 0 1 0 -2 0"/><path d="M15 5m-1 0a1 1 0 1 0 2 0a1 1 0 1 0 -2 0"/><path d="M15 12m-1 0a1 1 0 1 0 2 0a1 1 0 1 0 -2 0"/><path d="M15 19m-1 0a1 1 0 1 0 2 0a1 1 0 1 0 -2 0"/></svg>
<div class="cb" style="left:334px;top:1305.5px;"></div>
<div id="t119" class="t med" style="left:358.4px;top:1304.1px;font-size:14px;line-height:20px;color:#0a0a0a;letter-spacing:0.341px;">Advanced Algorithms and Machine Learning</div>
<div class="bdg" style="left:671.6px;top:1302.7px;"><span id="t120" class="med" style="letter-spacing:0.45px;">Narrative</span></div>
<div class="bdg" style="left:820.9px;top:1302.7px;"><svg class="bi" style="left:0px;top:0px;width:12px;height:12px" viewBox="0 0 24 24" fill="#22c55e" stroke="none"><path d="M17 3.34a10 10 0 1 1 -14.995 8.984l-.005 -.324l.005 -.324a10 10 0 0 1 14.995 -8.336zm-1.293 5.953a1 1 0 0 0 -1.32 -.083l-.094 .083l-3.293 3.292l-1.293 -1.292l-.094 -.083a1 1 0 0 0 -1.403 1.403l.083 .094l2 2l.094 .083a1 1 0 0 0 1.226 0l.094 -.083l4 -4l.083 -.094a1 1 0 0 0 -.083 -1.32z"/></svg><span id="t121" class="med" style="letter-spacing:0.367px;">Done</span></div>
<div id="t122" class="t" style="right:354.7px;top:1304.1px;font-size:14px;line-height:20px;color:#0a0a0a;">30</div>
<div id="t123" class="t" style="right:272.5px;top:1304.1px;font-size:14px;line-height:20px;color:#0a0a0a;">28</div>
<div class="btn" style="left:1094.2px;top:1297.7px;width:152.4px;height:31.6px;"></div>
<div id="t124" class="t" style="left:1107.0px;top:1303.9px;font-size:14px;line-height:20px;color:#737373;letter-spacing:0.121px;">Assign reviewer</div>
<svg class="ic" style="left:1216.5px;top:1305.5px;width:16px;height:16px" viewBox="0 0 24 24" fill="none" stroke="#a3a3a3" stroke-width="2" stroke-linecap="round" stroke-linejoin="round"><path d="M6 9l6 6l6 -6"/></svg>
<svg class="ic" style="left:1275.5px;top:1305.5px;width:16px;height:16px" viewBox="0 0 24 24" fill="none" stroke="#666666" stroke-width="2" stroke-linecap="round" stroke-linejoin="round"><path d="M12 12m-1 0a1 1 0 1 0 2 0a1 1 0 1 0 -2 0"/><path d="M12 19m-1 0a1 1 0 1 0 2 0a1 1 0 1 0 -2 0"/><path d="M12 5m-1 0a1 1 0 1 0 2 0a1 1 0 1 0 -2 0"/></svg>
<div id="t125" class="t" style="left:295.7px;top:1362.6px;font-size:14px;line-height:20px;color:#737373;letter-spacing:0.265px;">0 of 68 row(s) selected.</div>
<div id="t126" class="t med" style="left:822.5px;top:1362.6px;font-size:14px;line-height:20px;color:#0a0a0a;letter-spacing:0.283px;">Rows per page</div>
<div class="btn" style="left:928.6px;top:1356.7px;width:79px;height:31.4px;"></div>
<div id="t127" class="t" style="left:940.5px;top:1362.6px;font-size:14px;line-height:20px;color:#0a0a0a;letter-spacing:-0.8px;">10</div>
<svg class="ic" style="left:979.5px;top:1364.6px;width:16px;height:16px" viewBox="0 0 24 24" fill="none" stroke="#a3a3a3" stroke-width="2" stroke-linecap="round" stroke-linejoin="round"><path d="M6 9l6 6l6 -6"/></svg>
<div id="t128" class="t med" style="left:1039.5px;top:1362.6px;font-size:14px;line-height:20px;color:#0a0a0a;letter-spacing:-0.08px;">Page 1 of 7</div>
<div class="btn" style="left:1142.4px;top:1356.7px;width:31.4px;height:31.4px;opacity:0.5;"></div>
<svg class="ic" style="left:1150.1000000000001px;top:1364.4px;width:16px;height:16px" viewBox="0 0 24 24" fill="none" stroke="#8a8a8a" stroke-width="2" stroke-linecap="round" stroke-linejoin="round"><path d="M11 7l-5 5l5 5"/><path d="M17 7l-5 5l5 5"/></svg>
<div class="btn" style="left:1182.4px;top:1356.7px;width:31.4px;height:31.4px;opacity:0.5;"></div>
<svg class="ic" style="left:1190.1000000000001px;top:1364.4px;width:16px;height:16px" viewBox="0 0 24 24" fill="none" stroke="#8a8a8a" stroke-width="2" stroke-linecap="round" stroke-linejoin="round"><path d="M15 6l-6 6l6 6"/></svg>
<div class="btn" style="left:1222.4px;top:1356.7px;width:31.4px;height:31.4px;"></div>
<svg class="ic" style="left:1230.1000000000001px;top:1364.4px;width:16px;height:16px" viewBox="0 0 24 24" fill="none" stroke="#0a0a0a" stroke-width="2" stroke-linecap="round" stroke-linejoin="round"><path d="M9 6l6 6l-6 6"/></svg>
<div class="btn" style="left:1262.4px;top:1356.7px;width:31.4px;height:31.4px;"></div>
<svg class="ic" style="left:1270.1000000000001px;top:1364.4px;width:16px;height:16px" viewBox="0 0 24 24" fill="none" stroke="#0a0a0a" stroke-width="2" stroke-linecap="round" stroke-linejoin="round"><path d="M7 7l5 5l-5 5"/><path d="M13 7l5 5l-5 5"/></svg>
<div class="frame"></div></body></html>
